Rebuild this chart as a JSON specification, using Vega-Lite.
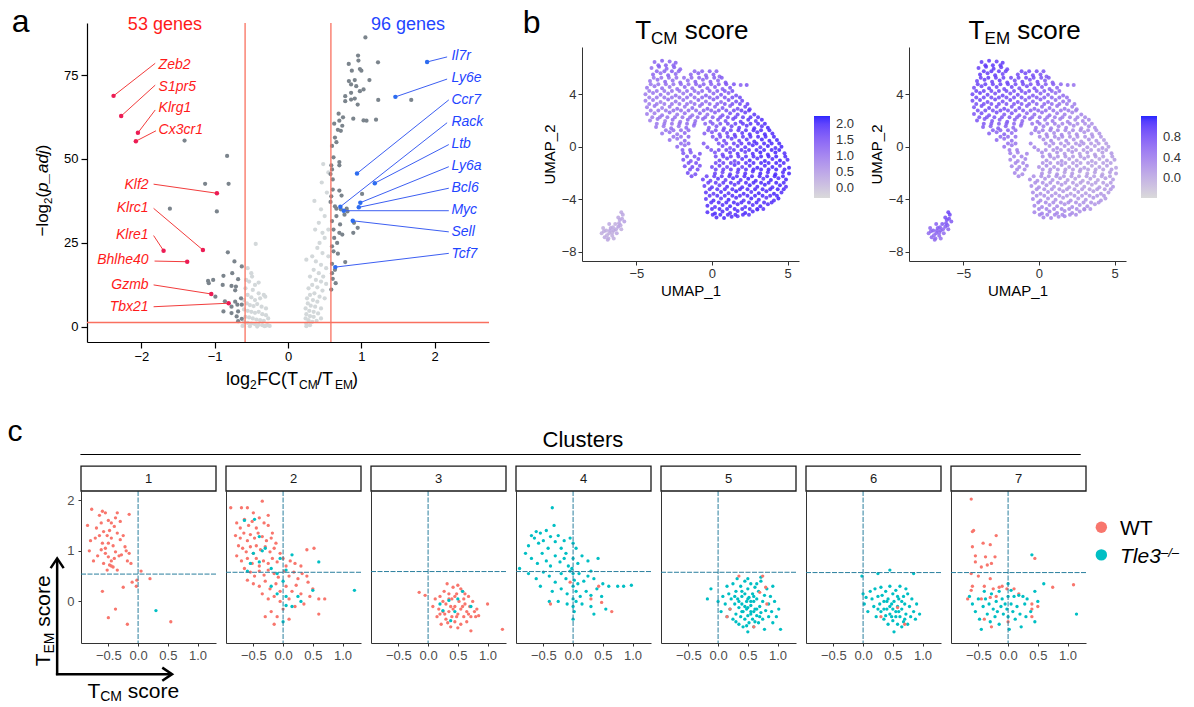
{
"$schema":"https://vega.github.io/schema/vega-lite/v6.json",
"padding":{"left":7,"top":6,"right":0,"bottom":0},
"background":"white",
"config":{"font":"Liberation Sans","view":{"stroke":null},"axis":{"grid":false,"domainColor":"#000","tickColor":"#000","labelColor":"#000","labelFont":"Liberation Sans","titleFont":"Liberation Sans","titleFontWeight":"normal","labelFontSize":13,"titleColor":"#000"},"legend":{"labelFont":"Liberation Sans"},"text":{"font":"Liberation Sans"}},
"datasets":{
"vol":[
{"x":-0.44,"y":24.7,"t":"l"},{"x":-0.55,"y":17.5,"t":"l"},{"x":-0.5,"y":16,"t":"l"},{"x":-0.57,"y":14,"t":"l"},{"x":-0.53,"y":13.5,"t":"l"},{"x":-0.45,"y":12.5,"t":"l"},{"x":-0.58,"y":11.5,"t":"l"},{"x":-0.48,"y":11,"t":"l"},{"x":-0.4,"y":10,"t":"l"},{"x":-0.33,"y":9.5,"t":"l"},{"x":-0.55,"y":9.5,"t":"l"},{"x":-0.5,"y":8.8,"t":"l"},{"x":-0.45,"y":8,"t":"l"},{"x":-0.38,"y":8.5,"t":"l"},{"x":-0.6,"y":8,"t":"l"},{"x":-0.56,"y":7,"t":"l"},{"x":-0.52,"y":6.5,"t":"l"},{"x":-0.47,"y":6.2,"t":"l"},{"x":-0.42,"y":6.8,"t":"l"},{"x":-0.36,"y":6,"t":"l"},{"x":-0.3,"y":5.5,"t":"l"},{"x":-0.6,"y":5.2,"t":"l"},{"x":-0.55,"y":4.8,"t":"l"},{"x":-0.5,"y":4.5,"t":"l"},{"x":-0.45,"y":4.2,"t":"l"},{"x":-0.4,"y":4.5,"t":"l"},{"x":-0.35,"y":3.8,"t":"l"},{"x":-0.3,"y":3.5,"t":"l"},{"x":-0.27,"y":2.5,"t":"l"},{"x":-0.58,"y":3,"t":"l"},{"x":-0.53,"y":2.8,"t":"l"},{"x":-0.48,"y":2.5,"t":"l"},{"x":-0.43,"y":2.2,"t":"l"},{"x":-0.38,"y":2,"t":"l"},{"x":-0.33,"y":1.8,"t":"l"},{"x":-0.6,"y":1.5,"t":"l"},{"x":-0.55,"y":1.2,"t":"l"},{"x":-0.5,"y":1.0,"t":"l"},{"x":-0.45,"y":0.8,"t":"l"},{"x":-0.4,"y":0.6,"t":"l"},{"x":-0.35,"y":0.5,"t":"l"},{"x":-0.3,"y":0.4,"t":"l"},{"x":-0.62,"y":0.3,"t":"l"},{"x":-0.52,"y":0.2,"t":"l"},{"x":-0.42,"y":0.1,"t":"l"},{"x":-0.32,"y":0.2,"t":"l"},{"x":-0.28,"y":0.5,"t":"l"},{"x":-0.25,"y":0.3,"t":"l"},{"x":-0.49,"y":15.0,"t":"l"},{"x":-0.4,"y":13.2,"t":"l"},{"x":-0.31,"y":9.0,"t":"l"},
{"x":0.48,"y":48.5,"t":"l"},{"x":0.36,"y":37.5,"t":"l"},{"x":0.45,"y":35,"t":"l"},{"x":0.5,"y":33,"t":"l"},{"x":0.42,"y":31,"t":"l"},{"x":0.37,"y":29,"t":"l"},{"x":0.47,"y":28,"t":"l"},{"x":0.5,"y":26.5,"t":"l"},{"x":0.43,"y":25,"t":"l"},{"x":0.4,"y":23.5,"t":"l"},{"x":0.33,"y":21,"t":"l"},{"x":0.47,"y":22,"t":"l"},{"x":0.25,"y":20,"t":"l"},{"x":0.38,"y":19.5,"t":"l"},{"x":0.45,"y":18.5,"t":"l"},{"x":0.52,"y":17.5,"t":"l"},{"x":0.35,"y":17,"t":"l"},{"x":0.42,"y":16,"t":"l"},{"x":0.48,"y":15,"t":"l"},{"x":0.3,"y":15,"t":"l"},{"x":0.38,"y":14,"t":"l"},{"x":0.45,"y":13.5,"t":"l"},{"x":0.52,"y":12.8,"t":"l"},{"x":0.33,"y":12.5,"t":"l"},{"x":0.28,"y":11.5,"t":"l"},{"x":0.4,"y":11.8,"t":"l"},{"x":0.47,"y":10.8,"t":"l"},{"x":0.36,"y":10,"t":"l"},{"x":0.3,"y":9.5,"t":"l"},{"x":0.43,"y":9,"t":"l"},{"x":0.5,"y":8.5,"t":"l"},{"x":0.26,"y":8.5,"t":"l"},{"x":0.34,"y":8,"t":"l"},{"x":0.4,"y":7.5,"t":"l"},{"x":0.27,"y":7,"t":"l"},{"x":0.31,"y":6.3,"t":"l"},{"x":0.37,"y":6,"t":"l"},{"x":0.45,"y":5.5,"t":"l"},{"x":0.24,"y":5.5,"t":"l"},{"x":0.29,"y":4.8,"t":"l"},{"x":0.35,"y":4.5,"t":"l"},{"x":0.41,"y":4,"t":"l"},{"x":0.25,"y":3.8,"t":"l"},{"x":0.3,"y":3.2,"t":"l"},{"x":0.35,"y":3,"t":"l"},{"x":0.24,"y":2.5,"t":"l"},{"x":0.28,"y":2,"t":"l"},{"x":0.33,"y":1.5,"t":"l"},{"x":0.39,"y":1.8,"t":"l"},{"x":0.25,"y":1,"t":"l"},{"x":0.3,"y":0.5,"t":"l"},{"x":0.25,"y":0.2,"t":"l"},{"x":0.45,"y":2.5,"t":"l"},{"x":0.55,"y":21,"t":"l"},{"x":0.55,"y":29,"t":"l"},{"x":0.53,"y":40,"t":"l"},{"x":0.46,"y":43,"t":"l"},{"x":0.55,"y":46,"t":"l"},
{"x":1.055,"y":86.2,"t":"d"},{"x":0.955,"y":80.8,"t":"d"},{"x":1.227,"y":78.8,"t":"d"},{"x":0.828,"y":78.3,"t":"d"},{"x":0.96,"y":79.3,"t":"d"},{"x":0.98,"y":76.8,"t":"d"},{"x":0.87,"y":76.3,"t":"d"},{"x":1.0,"y":76.3,"t":"d"},{"x":1.11,"y":73.5,"t":"d"},{"x":0.83,"y":73.2,"t":"d"},{"x":0.91,"y":73.5,"t":"d"},{"x":0.86,"y":72.2,"t":"d"},{"x":0.93,"y":71.7,"t":"d"},{"x":0.98,"y":70.2,"t":"d"},{"x":1.03,"y":70.7,"t":"d"},{"x":0.86,"y":69.7,"t":"d"},{"x":0.78,"y":68.7,"t":"d"},{"x":0.91,"y":68.0,"t":"d"},{"x":0.86,"y":67.7,"t":"d"},{"x":0.95,"y":66.2,"t":"d"},{"x":0.78,"y":67.2,"t":"d"},{"x":1.23,"y":67.6,"t":"d"},{"x":1.68,"y":67.6,"t":"d"},{"x":0.89,"y":62.0,"t":"d"},{"x":1.03,"y":61.5,"t":"d"},{"x":1.07,"y":61.4,"t":"d"},{"x":1.2,"y":61.7,"t":"d"},{"x":0.75,"y":62.4,"t":"d"},{"x":0.7,"y":61.4,"t":"d"},{"x":0.74,"y":59.9,"t":"d"},{"x":0.68,"y":58.7,"t":"d"},{"x":0.72,"y":58.4,"t":"d"},{"x":0.64,"y":56.4,"t":"d"},{"x":0.6,"y":53.9,"t":"d"},{"x":0.59,"y":48.1,"t":"d"},{"x":0.6,"y":46.9,"t":"d"},{"x":0.7,"y":49.1,"t":"d"},{"x":0.7,"y":48.1,"t":"d"},{"x":0.61,"y":43.9,"t":"d"},{"x":0.7,"y":40.6,"t":"d"},{"x":0.73,"y":39.1,"t":"d"},{"x":0.61,"y":40.9,"t":"d"},{"x":0.59,"y":38.9,"t":"d"},{"x":0.64,"y":35.9,"t":"d"},{"x":0.77,"y":33.4,"t":"d"},{"x":0.81,"y":34.4,"t":"d"},{"x":0.9,"y":31.0,"t":"d"},{"x":0.95,"y":29.5,"t":"d"},{"x":1.01,"y":39.6,"t":"d"},{"x":0.7,"y":28.0,"t":"d"},{"x":0.74,"y":27.5,"t":"d"},{"x":0.67,"y":25.0,"t":"d"},{"x":0.6,"y":24.0,"t":"d"},{"x":0.68,"y":21.8,"t":"d"},{"x":0.78,"y":19.3,"t":"d"},{"x":0.6,"y":18.8,"t":"d"},{"x":0.64,"y":17.0,"t":"d"},{"x":0.59,"y":11.1,"t":"d"},{"x":0.61,"y":14.3,"t":"d"},{"x":0.89,"y":28.0,"t":"d"},{"x":0.6,"y":31.5,"t":"d"},{"x":0.58,"y":37.2,"t":"d"},{"x":0.66,"y":33.0,"t":"d"},{"x":0.62,"y":29.0,"t":"d"},{"x":0.66,"y":35.2,"t":"d"},{"x":0.72,"y":35.0,"t":"d"},{"x":0.8,"y":35.2,"t":"d"},{"x":0.62,"y":22.5,"t":"d"},{"x":0.65,"y":13,"t":"d"},{"x":0.6,"y":16,"t":"d"},{"x":0.63,"y":26.5,"t":"d"},{"x":0.71,"y":30.5,"t":"d"},{"x":0.58,"y":45.5,"t":"d"},{"x":0.62,"y":50.5,"t":"d"},{"x":0.66,"y":55,"t":"d"},{"x":0.63,"y":60.5,"t":"d"},{"x":0.69,"y":63.5,"t":"d"},
{"x":-1.41,"y":55.5,"t":"d"},{"x":-0.83,"y":50.9,"t":"d"},{"x":-1.13,"y":42.6,"t":"d"},{"x":-0.81,"y":42.6,"t":"d"},{"x":-1.61,"y":35.2,"t":"d"},{"x":-0.97,"y":34.4,"t":"d"},{"x":-0.82,"y":22.2,"t":"d"},{"x":-0.73,"y":19.5,"t":"d"},{"x":-0.63,"y":18.0,"t":"d"},{"x":-0.76,"y":16.0,"t":"d"},{"x":-0.88,"y":15.2,"t":"d"},{"x":-1.02,"y":14.0,"t":"d"},{"x":-1.09,"y":13.7,"t":"d"},{"x":-0.68,"y":14.2,"t":"d"},{"x":-0.89,"y":12.5,"t":"d"},{"x":-0.77,"y":12.2,"t":"d"},{"x":-0.71,"y":12.0,"t":"d"},{"x":-1.08,"y":13.0,"t":"d"},{"x":-0.99,"y":9.0,"t":"d"},{"x":-0.72,"y":10.9,"t":"d"},{"x":-0.64,"y":8.5,"t":"d"},{"x":-0.72,"y":7.5,"t":"d"},{"x":-0.88,"y":4.6,"t":"d"},{"x":-0.77,"y":4.1,"t":"d"},{"x":-0.68,"y":4.6,"t":"d"},{"x":-0.7,"y":3.1,"t":"d"},{"x":-0.63,"y":2.4,"t":"d"},{"x":-0.68,"y":1.7,"t":"d"},{"x":-0.77,"y":6.0,"t":"d"},{"x":-0.86,"y":7.6,"t":"d"},{"x":-0.63,"y":6.6,"t":"d"},{"x":-0.69,"y":6.6,"t":"d"}
],
"genes":[
{"n":"Zeb2","s":"L","a":"l","px":-2.378,"py":68.8,"lx":-1.81,"ly":78.5,"tx":-1.764,"ty":78.0},
{"n":"S1pr5","s":"L","a":"l","px":-2.274,"py":62.8,"lx":-1.81,"ly":72.0,"tx":-1.764,"ty":71.5},
{"n":"Klrg1","s":"L","a":"l","px":-2.046,"py":57.8,"lx":-1.81,"ly":64.6,"tx":-1.764,"ty":65.1},
{"n":"Cx3cr1","s":"L","a":"l","px":-2.074,"py":55.3,"lx":-1.8,"ly":58.4,"tx":-1.764,"ty":58.6},
{"n":"Klf2","s":"L","a":"r","px":-0.969,"py":39.8,"lx":-1.832,"ly":42.5,"tx":-1.9,"ty":42.3},
{"n":"Klrc1","s":"L","a":"r","px":-1.16,"py":22.9,"lx":-1.832,"ly":35.3,"tx":-1.9,"ty":35.3},
{"n":"Klre1","s":"L","a":"r","px":-1.696,"py":22.7,"lx":-1.832,"ly":27.2,"tx":-1.9,"ty":27.4},
{"n":"Bhlhe40","s":"L","a":"r","px":-1.374,"py":19.4,"lx":-1.819,"ly":19.6,"tx":-1.9,"ty":19.9},
{"n":"Gzmb","s":"L","a":"r","px":-1.046,"py":9.8,"lx":-1.832,"ly":12.5,"tx":-1.9,"ty":12.5},
{"n":"Tbx21","s":"L","a":"r","px":-0.809,"py":7.05,"lx":-1.832,"ly":6.0,"tx":-1.9,"ty":5.9},
{"n":"Il7r","s":"R","a":"l","px":1.896,"py":78.9,"lx":2.169,"ly":80.4,"tx":2.228,"ty":80.7},
{"n":"Ly6e","s":"R","a":"l","px":1.464,"py":68.5,"lx":2.169,"ly":73.8,"tx":2.228,"ty":74.0},
{"n":"Ccr7","s":"R","a":"l","px":0.941,"py":45.7,"lx":2.192,"ly":67.6,"tx":2.228,"ty":67.6},
{"n":"Rack","s":"R","a":"l","px":0.714,"py":35.8,"lx":2.169,"ly":60.8,"tx":2.228,"ty":61.0},
{"n":"Ltb","s":"R","a":"l","px":1.183,"py":42.8,"lx":2.192,"ly":54.3,"tx":2.228,"ty":54.5},
{"n":"Ly6a","s":"R","a":"l","px":0.986,"py":37.0,"lx":2.192,"ly":47.7,"tx":2.228,"ty":47.9},
{"n":"Bcl6","s":"R","a":"l","px":0.965,"py":35.6,"lx":2.192,"ly":41.3,"tx":2.228,"ty":41.3},
{"n":"Myc","s":"R","a":"l","px":0.76,"py":34.6,"lx":2.192,"ly":34.6,"tx":2.228,"ty":34.8},
{"n":"Sell","s":"R","a":"l","px":0.883,"py":31.6,"lx":2.192,"ly":28.3,"tx":2.228,"ty":28.4},
{"n":"Tcf7","s":"R","a":"l","px":0.645,"py":17.8,"lx":2.192,"ly":21.9,"tx":2.228,"ty":21.7}
],
"umap":[
{"u":-3.8,"v":6.45,"c":1.2,"e":0.9},{"u":-3.3,"v":6.55,"c":1.3,"e":0.9},{"u":-2.8,"v":6.5,"c":1.2,"e":0.85},{"u":-2.4,"v":6.4,"c":1.3,"e":0.9},
{"u":-4.0,"v":6.0,"c":1.1,"e":0.85},{"u":-3.5,"v":6.1,"c":1.3,"e":0.95},{"u":-3.0,"v":5.95,"c":1.2,"e":0.9},{"u":-2.5,"v":6.05,"c":1.3,"e":0.85},{"u":-2.1,"v":5.9,"c":1.2,"e":0.8},
{"u":-3.9,"v":5.5,"c":1.2,"e":0.9},{"u":-3.4,"v":5.6,"c":1.1,"e":0.85},{"u":-2.9,"v":5.45,"c":1.3,"e":0.9},{"u":-2.4,"v":5.55,"c":1.2,"e":0.8},{"u":-1.4,"v":5.5,"c":1.2,"e":0.75},{"u":-0.9,"v":5.6,"c":1.3,"e":0.8},{"u":-0.4,"v":5.45,"c":1.2,"e":0.75},{"u":0.1,"v":5.5,"c":1.3,"e":0.7},{"u":0.5,"v":5.35,"c":1.2,"e":0.65},
{"u":-4.1,"v":5.0,"c":1.0,"e":0.8},{"u":-3.6,"v":5.1,"c":1.1,"e":0.85},{"u":-3.1,"v":4.95,"c":1.2,"e":0.8},{"u":-2.6,"v":5.05,"c":1.1,"e":0.85},{"u":-2.1,"v":4.9,"c":1.2,"e":0.8},{"u":-1.6,"v":5.05,"c":1.1,"e":0.75},{"u":-1.1,"v":4.95,"c":1.3,"e":0.8},{"u":-0.6,"v":5.1,"c":1.2,"e":0.7},{"u":-0.1,"v":4.95,"c":1.3,"e":0.75},{"u":0.4,"v":5.05,"c":1.2,"e":0.65},{"u":0.9,"v":4.9,"c":1.4,"e":0.6},{"u":1.9,"v":4.7,"c":1.3,"e":0.5},{"u":2.3,"v":4.7,"c":1.4,"e":0.45},
{"u":-4.3,"v":4.5,"c":1.0,"e":0.75},{"u":-3.8,"v":4.6,"c":1.0,"e":0.8},{"u":-3.3,"v":4.45,"c":1.1,"e":0.85},{"u":-2.8,"v":4.55,"c":1.0,"e":0.8},{"u":-2.3,"v":4.4,"c":1.1,"e":0.75},{"u":-1.8,"v":4.55,"c":1.2,"e":0.8},{"u":-1.3,"v":4.45,"c":1.1,"e":0.7},{"u":-0.8,"v":4.6,"c":1.3,"e":0.75},{"u":-0.3,"v":4.45,"c":1.2,"e":0.7},{"u":0.2,"v":4.55,"c":1.3,"e":0.65},{"u":0.7,"v":4.4,"c":1.3,"e":0.6},{"u":1.2,"v":4.5,"c":1.4,"e":0.55},
{"u":-4.4,"v":4.0,"c":0.9,"e":0.8},{"u":-3.9,"v":4.1,"c":1.0,"e":0.85},{"u":-3.4,"v":3.95,"c":1.1,"e":0.8},{"u":-2.9,"v":4.05,"c":1.0,"e":0.75},{"u":-2.4,"v":3.9,"c":1.1,"e":0.8},{"u":-1.9,"v":4.05,"c":1.0,"e":0.7},{"u":-1.4,"v":3.95,"c":1.2,"e":0.75},{"u":-0.9,"v":4.1,"c":1.1,"e":0.7},{"u":-0.4,"v":3.9,"c":1.3,"e":0.65},{"u":0.1,"v":4.05,"c":1.2,"e":0.6},{"u":0.6,"v":3.95,"c":1.4,"e":0.6},{"u":1.1,"v":4.1,"c":1.3,"e":0.5},{"u":1.6,"v":3.9,"c":1.5,"e":0.5},
{"u":-4.4,"v":3.5,"c":0.9,"e":0.75},{"u":-3.9,"v":3.55,"c":1.0,"e":0.8},{"u":-3.4,"v":3.4,"c":0.9,"e":0.75},{"u":-2.9,"v":3.6,"c":1.1,"e":0.8},{"u":-2.4,"v":3.45,"c":1.0,"e":0.7},{"u":-1.9,"v":3.55,"c":1.1,"e":0.75},{"u":-1.4,"v":3.4,"c":1.0,"e":0.7},{"u":-0.9,"v":3.55,"c":1.2,"e":0.65},{"u":-0.4,"v":3.45,"c":1.1,"e":0.6},{"u":0.1,"v":3.6,"c":1.3,"e":0.6},{"u":0.6,"v":3.4,"c":1.2,"e":0.55},{"u":1.1,"v":3.55,"c":1.4,"e":0.5},{"u":1.6,"v":3.45,"c":1.5,"e":0.45},{"u":2.0,"v":3.5,"c":1.6,"e":0.4},
{"u":-4.3,"v":3.0,"c":0.9,"e":0.7},{"u":-3.8,"v":3.1,"c":1.0,"e":0.75},{"u":-3.3,"v":2.95,"c":0.9,"e":0.8},{"u":-2.8,"v":3.05,"c":1.0,"e":0.7},{"u":-2.3,"v":2.9,"c":1.1,"e":0.75},{"u":-1.8,"v":3.05,"c":1.0,"e":0.65},{"u":-1.3,"v":2.95,"c":1.2,"e":0.7},{"u":-0.8,"v":3.1,"c":1.1,"e":0.6},{"u":-0.3,"v":2.9,"c":1.3,"e":0.55},{"u":0.2,"v":3.05,"c":1.2,"e":0.5},{"u":0.7,"v":2.95,"c":1.4,"e":0.5},{"u":1.2,"v":3.1,"c":1.3,"e":0.45},{"u":1.7,"v":2.9,"c":1.5,"e":0.4},{"u":2.2,"v":3.05,"c":1.6,"e":0.35},{"u":2.5,"v":2.85,"c":1.7,"e":0.3},
{"u":-4.3,"v":2.5,"c":0.9,"e":0.7},{"u":-3.8,"v":2.55,"c":0.9,"e":0.75},{"u":-3.3,"v":2.4,"c":1.0,"e":0.7},{"u":-2.8,"v":2.6,"c":1.1,"e":0.75},{"u":-2.3,"v":2.45,"c":1.0,"e":0.65},{"u":-1.8,"v":2.55,"c":1.1,"e":0.7},{"u":-1.3,"v":2.4,"c":1.0,"e":0.6},{"u":-0.8,"v":2.55,"c":1.2,"e":0.55},{"u":-0.3,"v":2.45,"c":1.1,"e":0.5},{"u":0.2,"v":2.6,"c":1.3,"e":0.5},{"u":0.7,"v":2.4,"c":1.4,"e":0.45},{"u":1.2,"v":2.55,"c":1.5,"e":0.4},{"u":1.7,"v":2.45,"c":1.6,"e":0.35},{"u":2.2,"v":2.6,"c":1.7,"e":0.3},{"u":2.8,"v":2.45,"c":1.8,"e":0.3},
{"u":-4.1,"v":2.0,"c":0.9,"e":0.7},{"u":-3.6,"v":2.1,"c":1.0,"e":0.65},{"u":-3.1,"v":1.95,"c":0.9,"e":0.7},{"u":-2.6,"v":2.05,"c":1.1,"e":0.65},{"u":-2.1,"v":1.9,"c":1.0,"e":0.7},{"u":-1.6,"v":2.05,"c":1.2,"e":0.6},{"u":-1.1,"v":1.95,"c":1.1,"e":0.55},{"u":-0.6,"v":2.1,"c":1.2,"e":0.5},{"u":-0.1,"v":1.9,"c":1.3,"e":0.45},{"u":0.4,"v":2.05,"c":1.4,"e":0.4},{"u":0.9,"v":1.95,"c":1.5,"e":0.4},{"u":1.4,"v":2.1,"c":1.6,"e":0.35},{"u":1.9,"v":1.9,"c":1.7,"e":0.3},{"u":2.4,"v":2.05,"c":1.8,"e":0.25},{"u":2.9,"v":1.95,"c":1.7,"e":0.3},{"u":3.3,"v":2.05,"c":1.9,"e":0.25},
{"u":-3.7,"v":1.5,"c":1.0,"e":0.65},{"u":-3.2,"v":1.55,"c":0.9,"e":0.6},{"u":-2.7,"v":1.4,"c":1.1,"e":0.65},{"u":-2.2,"v":1.55,"c":1.0,"e":0.6},{"u":-1.7,"v":1.45,"c":1.2,"e":0.55},{"u":-1.2,"v":1.6,"c":1.1,"e":0.5},{"u":-0.2,"v":1.45,"c":1.3,"e":0.4},{"u":0.3,"v":1.55,"c":1.4,"e":0.35},{"u":0.8,"v":1.4,"c":1.5,"e":0.35},{"u":1.3,"v":1.55,"c":1.6,"e":0.3},{"u":1.8,"v":1.45,"c":1.7,"e":0.3},{"u":2.3,"v":1.6,"c":1.8,"e":0.25},{"u":2.8,"v":1.4,"c":1.9,"e":0.2},{"u":3.3,"v":1.55,"c":1.8,"e":0.25},{"u":3.7,"v":1.45,"c":2.0,"e":0.2},
{"u":-3.3,"v":1.0,"c":1.0,"e":0.6},{"u":-2.8,"v":1.1,"c":1.1,"e":0.55},{"u":-2.3,"v":0.95,"c":1.0,"e":0.6},{"u":-1.8,"v":1.05,"c":1.2,"e":0.5},{"u":-0.5,"v":1.0,"c":1.3,"e":0.35},{"u":0.0,"v":1.1,"c":1.4,"e":0.3},{"u":0.5,"v":0.95,"c":1.5,"e":0.3},{"u":1.0,"v":1.05,"c":1.6,"e":0.25},{"u":1.5,"v":0.9,"c":1.7,"e":0.3},{"u":2.0,"v":1.05,"c":1.8,"e":0.2},{"u":2.5,"v":0.95,"c":1.9,"e":0.25},{"u":3.0,"v":1.1,"c":1.8,"e":0.2},{"u":3.5,"v":0.95,"c":2.0,"e":0.15},{"u":4.0,"v":1.0,"c":1.9,"e":0.2},
{"u":-2.8,"v":0.5,"c":1.1,"e":0.55},{"u":-2.3,"v":0.6,"c":1.0,"e":0.5},{"u":-1.8,"v":0.45,"c":1.2,"e":0.5},{"u":0.3,"v":0.55,"c":1.5,"e":0.25},{"u":0.8,"v":0.45,"c":1.6,"e":0.3},{"u":1.3,"v":0.6,"c":1.7,"e":0.2},{"u":1.8,"v":0.45,"c":1.6,"e":0.25},{"u":2.3,"v":0.55,"c":1.8,"e":0.2},{"u":2.8,"v":0.4,"c":1.9,"e":0.15},{"u":3.3,"v":0.55,"c":2.0,"e":0.2},{"u":3.8,"v":0.45,"c":1.9,"e":0.15},{"u":4.3,"v":0.5,"c":2.0,"e":0.1},
{"u":-2.3,"v":0.0,"c":1.2,"e":0.45},{"u":-1.8,"v":0.1,"c":1.1,"e":0.4},{"u":-0.3,"v":-0.05,"c":1.4,"e":0.3},{"u":0.7,"v":0.05,"c":1.6,"e":0.2},{"u":1.2,"v":-0.1,"c":1.5,"e":0.25},{"u":1.7,"v":0.05,"c":1.7,"e":0.2},{"u":2.2,"v":-0.05,"c":1.8,"e":0.15},{"u":2.7,"v":0.1,"c":1.9,"e":0.2},{"u":3.2,"v":-0.05,"c":1.8,"e":0.15},{"u":3.7,"v":0.05,"c":2.0,"e":0.1},{"u":4.2,"v":-0.1,"c":1.9,"e":0.15},{"u":4.6,"v":0.0,"c":2.0,"e":0.1},
{"u":-1.9,"v":-0.5,"c":1.4,"e":0.35},{"u":-1.4,"v":-0.45,"c":1.3,"e":0.3},{"u":-0.8,"v":-0.55,"c":1.5,"e":0.3},{"u":0.2,"v":-0.45,"c":1.5,"e":0.25},{"u":0.7,"v":-0.6,"c":1.6,"e":0.2},{"u":1.2,"v":-0.45,"c":1.7,"e":0.2},{"u":1.7,"v":-0.55,"c":1.8,"e":0.15},{"u":2.2,"v":-0.4,"c":1.7,"e":0.2},{"u":2.7,"v":-0.55,"c":1.9,"e":0.1},{"u":3.2,"v":-0.45,"c":2.0,"e":0.15},{"u":3.7,"v":-0.6,"c":1.9,"e":0.1},{"u":4.2,"v":-0.45,"c":2.0,"e":0.1},{"u":4.8,"v":-0.5,"c":1.9,"e":0.15},
{"u":-1.9,"v":-1.0,"c":1.5,"e":0.3},{"u":-1.4,"v":-1.1,"c":1.4,"e":0.25},{"u":-0.9,"v":-0.95,"c":1.5,"e":0.3},{"u":0.5,"v":-1.05,"c":1.6,"e":0.2},{"u":1.0,"v":-0.9,"c":1.7,"e":0.15},{"u":1.5,"v":-1.1,"c":1.6,"e":0.2},{"u":2.0,"v":-0.95,"c":1.8,"e":0.15},{"u":2.5,"v":-1.05,"c":1.9,"e":0.1},{"u":3.0,"v":-0.9,"c":1.8,"e":0.15},{"u":3.5,"v":-1.1,"c":2.0,"e":0.1},{"u":4.0,"v":-0.95,"c":1.9,"e":0.05},{"u":4.5,"v":-1.05,"c":2.0,"e":0.1},{"u":5.0,"v":-1.0,"c":1.9,"e":0.1},
{"u":-1.8,"v":-1.5,"c":1.5,"e":0.3},{"u":-1.3,"v":-1.55,"c":1.6,"e":0.25},{"u":-0.8,"v":-1.45,"c":1.5,"e":0.3},{"u":0.0,"v":-1.55,"c":1.6,"e":0.2},{"u":0.5,"v":-1.45,"c":1.7,"e":0.25},{"u":1.0,"v":-1.55,"c":1.6,"e":0.15},{"u":1.5,"v":-1.4,"c":1.8,"e":0.2},{"u":2.0,"v":-1.55,"c":1.7,"e":0.1},{"u":2.5,"v":-1.45,"c":1.9,"e":0.15},{"u":3.0,"v":-1.6,"c":2.0,"e":0.1},{"u":3.5,"v":-1.45,"c":1.9,"e":0.05},{"u":4.0,"v":-1.55,"c":2.0,"e":0.1},{"u":4.5,"v":-1.45,"c":1.9,"e":0.1},{"u":5.1,"v":-1.6,"c":2.0,"e":0.05},
{"u":-1.6,"v":-2.0,"c":1.6,"e":0.3},{"u":-1.1,"v":-2.1,"c":1.5,"e":0.25},{"u":0.2,"v":-2.05,"c":1.7,"e":0.2},{"u":0.7,"v":-1.95,"c":1.6,"e":0.15},{"u":1.2,"v":-2.1,"c":1.8,"e":0.2},{"u":1.7,"v":-1.95,"c":1.7,"e":0.1},{"u":2.2,"v":-2.05,"c":1.9,"e":0.15},{"u":2.7,"v":-1.9,"c":1.8,"e":0.1},{"u":3.2,"v":-2.05,"c":2.0,"e":0.05},{"u":3.7,"v":-1.95,"c":1.9,"e":0.1},{"u":4.2,"v":-2.1,"c":2.0,"e":0.05},{"u":4.7,"v":-1.95,"c":1.9,"e":0.1},{"u":5.1,"v":-2.05,"c":2.0,"e":0.1},
{"u":-0.6,"v":-2.5,"c":1.7,"e":0.25},{"u":-0.1,"v":-2.6,"c":1.6,"e":0.2},{"u":0.4,"v":-2.45,"c":1.8,"e":0.2},{"u":0.9,"v":-2.55,"c":1.7,"e":0.15},{"u":1.4,"v":-2.4,"c":1.9,"e":0.15},{"u":1.9,"v":-2.55,"c":1.8,"e":0.1},{"u":2.4,"v":-2.45,"c":2.0,"e":0.1},{"u":2.9,"v":-2.6,"c":1.9,"e":0.05},{"u":3.4,"v":-2.45,"c":1.8,"e":0.1},{"u":3.9,"v":-2.55,"c":2.0,"e":0.05},{"u":4.4,"v":-2.4,"c":1.9,"e":0.1},{"u":4.9,"v":-2.5,"c":2.0,"e":0.1},
{"u":-0.5,"v":-3.0,"c":1.7,"e":0.25},{"u":0.0,"v":-3.1,"c":1.8,"e":0.2},{"u":0.5,"v":-2.95,"c":1.7,"e":0.2},{"u":1.0,"v":-3.05,"c":1.9,"e":0.15},{"u":1.5,"v":-2.9,"c":1.8,"e":0.15},{"u":2.0,"v":-3.1,"c":1.9,"e":0.1},{"u":2.5,"v":-2.95,"c":2.0,"e":0.1},{"u":3.0,"v":-3.05,"c":1.9,"e":0.1},{"u":3.5,"v":-2.9,"c":2.0,"e":0.05},{"u":4.0,"v":-3.1,"c":1.9,"e":0.1},{"u":4.5,"v":-2.95,"c":2.0,"e":0.1},{"u":4.9,"v":-3.05,"c":1.9,"e":0.15},
{"u":-0.4,"v":-3.5,"c":1.8,"e":0.25},{"u":0.1,"v":-3.6,"c":1.7,"e":0.2},{"u":0.6,"v":-3.45,"c":1.9,"e":0.2},{"u":1.1,"v":-3.55,"c":1.8,"e":0.15},{"u":1.6,"v":-3.4,"c":2.0,"e":0.15},{"u":2.1,"v":-3.6,"c":1.9,"e":0.1},{"u":2.6,"v":-3.45,"c":1.8,"e":0.15},{"u":3.1,"v":-3.55,"c":2.0,"e":0.1},{"u":3.6,"v":-3.4,"c":1.9,"e":0.1},{"u":4.1,"v":-3.6,"c":2.0,"e":0.15},{"u":4.6,"v":-3.5,"c":1.9,"e":0.1},
{"u":-0.4,"v":-4.0,"c":1.8,"e":0.3},{"u":0.1,"v":-4.1,"c":1.9,"e":0.25},{"u":0.6,"v":-3.95,"c":1.8,"e":0.2},{"u":1.1,"v":-4.05,"c":2.0,"e":0.2},{"u":1.6,"v":-3.9,"c":1.9,"e":0.15},{"u":2.1,"v":-4.1,"c":1.8,"e":0.2},{"u":2.6,"v":-3.95,"c":2.0,"e":0.15},{"u":3.1,"v":-4.05,"c":1.9,"e":0.15},{"u":3.6,"v":-3.9,"c":1.8,"e":0.2},{"u":4.1,"v":-4.1,"c":1.9,"e":0.15},{"u":4.4,"v":-3.95,"c":2.0,"e":0.1},
{"u":-0.3,"v":-4.5,"c":1.9,"e":0.3},{"u":0.2,"v":-4.6,"c":1.8,"e":0.3},{"u":0.7,"v":-4.45,"c":1.9,"e":0.25},{"u":1.2,"v":-4.55,"c":2.0,"e":0.25},{"u":1.7,"v":-4.4,"c":1.9,"e":0.2},{"u":2.2,"v":-4.6,"c":1.8,"e":0.25},{"u":2.7,"v":-4.45,"c":1.9,"e":0.2},{"u":3.2,"v":-4.55,"c":2.0,"e":0.2},{"u":3.7,"v":-4.4,"c":1.9,"e":0.15},
{"u":-0.3,"v":-5.0,"c":1.9,"e":0.3},{"u":0.2,"v":-5.1,"c":2.0,"e":0.35},{"u":0.7,"v":-4.95,"c":1.9,"e":0.3},{"u":1.2,"v":-5.05,"c":1.8,"e":0.3},{"u":1.7,"v":-4.9,"c":1.9,"e":0.25},{"u":2.2,"v":-5.05,"c":2.0,"e":0.25},{"u":2.7,"v":-4.95,"c":1.9,"e":0.2},{"u":3.0,"v":-4.8,"c":1.8,"e":0.2},
{"u":0.3,"v":-5.4,"c":1.9,"e":0.3},{"u":0.8,"v":-5.45,"c":2.0,"e":0.3},{"u":1.3,"v":-5.35,"c":1.9,"e":0.25},{"u":1.7,"v":-5.3,"c":1.8,"e":0.3},
{"u":-3.55,"v":6.2,"c":1.25,"e":0.9},{"u":-3.05,"v":6.2,"c":1.3,"e":0.92},{"u":-2.55,"v":6.2,"c":1.25,"e":0.88},
{"u":-3.65,"v":5.75,"c":1.2,"e":0.88},{"u":-3.15,"v":5.75,"c":1.25,"e":0.9},{"u":-2.65,"v":5.75,"c":1.3,"e":0.86},{"u":-2.2,"v":5.75,"c":1.2,"e":0.84},{"u":-1.15,"v":5.75,"c":1.2,"e":0.8},{"u":-0.65,"v":5.75,"c":1.25,"e":0.78},{"u":-0.15,"v":5.75,"c":1.3,"e":0.75},{"u":0.3,"v":5.75,"c":1.25,"e":0.7},
{"u":-3.85,"v":5.25,"c":1.0,"e":0.85},{"u":-3.35,"v":5.25,"c":1.05,"e":0.88},{"u":-2.85,"v":5.25,"c":1.1,"e":0.84},{"u":-2.35,"v":5.25,"c":1.05,"e":0.82},{"u":-1.85,"v":5.25,"c":1.1,"e":0.8},{"u":-1.35,"v":5.25,"c":1.15,"e":0.78},{"u":-0.85,"v":5.25,"c":1.25,"e":0.78},{"u":-0.35,"v":5.25,"c":1.2,"e":0.74},{"u":0.15,"v":5.25,"c":1.3,"e":0.7},{"u":0.65,"v":5.25,"c":1.35,"e":0.66},
{"u":-4.05,"v":4.75,"c":0.95,"e":0.82},{"u":-3.55,"v":4.75,"c":1.0,"e":0.84},{"u":-3.05,"v":4.75,"c":1.05,"e":0.8},{"u":-2.55,"v":4.75,"c":1.0,"e":0.82},{"u":-2.05,"v":4.75,"c":1.1,"e":0.78},{"u":-1.55,"v":4.75,"c":1.05,"e":0.76},{"u":-1.05,"v":4.75,"c":1.2,"e":0.74},{"u":-0.55,"v":4.75,"c":1.25,"e":0.7},{"u":-0.05,"v":4.75,"c":1.2,"e":0.7},{"u":0.45,"v":4.75,"c":1.3,"e":0.65},{"u":0.95,"v":4.75,"c":1.4,"e":0.6},{"u":1.45,"v":4.75,"c":1.45,"e":0.55},
{"u":-4.15,"v":4.25,"c":0.9,"e":0.8},{"u":-3.65,"v":4.25,"c":0.95,"e":0.82},{"u":-3.15,"v":4.25,"c":1.0,"e":0.78},{"u":-2.65,"v":4.25,"c":1.05,"e":0.8},{"u":-2.15,"v":4.25,"c":1.0,"e":0.76},{"u":-1.65,"v":4.25,"c":1.1,"e":0.74},{"u":-1.15,"v":4.25,"c":1.15,"e":0.72},{"u":-0.65,"v":4.25,"c":1.2,"e":0.7},{"u":-0.15,"v":4.25,"c":1.25,"e":0.66},{"u":0.35,"v":4.25,"c":1.3,"e":0.62},{"u":0.85,"v":4.25,"c":1.4,"e":0.58},{"u":1.35,"v":4.25,"c":1.5,"e":0.52},
{"u":-4.15,"v":3.75,"c":0.9,"e":0.78},{"u":-3.65,"v":3.75,"c":0.95,"e":0.8},{"u":-3.15,"v":3.75,"c":1.0,"e":0.76},{"u":-2.65,"v":3.75,"c":1.0,"e":0.78},{"u":-2.15,"v":3.75,"c":1.05,"e":0.72},{"u":-1.65,"v":3.75,"c":1.1,"e":0.74},{"u":-1.15,"v":3.75,"c":1.1,"e":0.7},{"u":-0.65,"v":3.75,"c":1.2,"e":0.66},{"u":-0.15,"v":3.75,"c":1.25,"e":0.62},{"u":0.35,"v":3.75,"c":1.3,"e":0.6},{"u":0.85,"v":3.75,"c":1.4,"e":0.55},{"u":1.35,"v":3.75,"c":1.5,"e":0.5},{"u":1.85,"v":3.75,"c":1.6,"e":0.45},
{"u":-4.15,"v":3.25,"c":0.9,"e":0.74},{"u":-3.65,"v":3.25,"c":0.95,"e":0.76},{"u":-3.15,"v":3.25,"c":0.95,"e":0.72},{"u":-2.65,"v":3.25,"c":1.05,"e":0.74},{"u":-2.15,"v":3.25,"c":1.0,"e":0.7},{"u":-1.65,"v":3.25,"c":1.1,"e":0.7},{"u":-1.15,"v":3.25,"c":1.1,"e":0.66},{"u":-0.65,"v":3.25,"c":1.2,"e":0.62},{"u":-0.15,"v":3.25,"c":1.2,"e":0.58},{"u":0.35,"v":3.25,"c":1.3,"e":0.55},{"u":0.85,"v":3.25,"c":1.4,"e":0.5},{"u":1.35,"v":3.25,"c":1.5,"e":0.45},{"u":1.85,"v":3.25,"c":1.6,"e":0.4},{"u":2.35,"v":3.25,"c":1.7,"e":0.35},
{"u":-4.05,"v":2.75,"c":0.9,"e":0.72},{"u":-3.55,"v":2.75,"c":0.95,"e":0.74},{"u":-3.05,"v":2.75,"c":0.95,"e":0.7},{"u":-2.55,"v":2.75,"c":1.05,"e":0.72},{"u":-2.05,"v":2.75,"c":1.05,"e":0.66},{"u":-1.55,"v":2.75,"c":1.1,"e":0.66},{"u":-1.05,"v":2.75,"c":1.15,"e":0.62},{"u":-0.55,"v":2.75,"c":1.2,"e":0.56},{"u":-0.05,"v":2.75,"c":1.25,"e":0.52},{"u":0.45,"v":2.75,"c":1.35,"e":0.48},{"u":0.95,"v":2.75,"c":1.45,"e":0.44},{"u":1.45,"v":2.75,"c":1.55,"e":0.4},{"u":1.95,"v":2.75,"c":1.65,"e":0.35},{"u":2.45,"v":2.75,"c":1.75,"e":0.3},
{"u":-3.95,"v":2.25,"c":0.9,"e":0.7},{"u":-3.45,"v":2.25,"c":0.95,"e":0.68},{"u":-2.95,"v":2.25,"c":1.0,"e":0.7},{"u":-2.45,"v":2.25,"c":1.05,"e":0.66},{"u":-1.95,"v":2.25,"c":1.05,"e":0.66},{"u":-1.45,"v":2.25,"c":1.1,"e":0.6},{"u":-0.95,"v":2.25,"c":1.15,"e":0.56},{"u":-0.45,"v":2.25,"c":1.2,"e":0.5},{"u":0.05,"v":2.25,"c":1.3,"e":0.46},{"u":0.55,"v":2.25,"c":1.4,"e":0.42},{"u":1.05,"v":2.25,"c":1.5,"e":0.38},{"u":1.55,"v":2.25,"c":1.6,"e":0.34},{"u":2.05,"v":2.25,"c":1.7,"e":0.3},{"u":2.55,"v":2.25,"c":1.8,"e":0.28},{"u":3.05,"v":2.25,"c":1.8,"e":0.26},
{"u":-3.65,"v":1.75,"c":0.95,"e":0.66},{"u":-3.15,"v":1.75,"c":1.0,"e":0.64},{"u":-2.65,"v":1.75,"c":1.05,"e":0.64},{"u":-2.15,"v":1.75,"c":1.05,"e":0.6},{"u":-1.65,"v":1.75,"c":1.15,"e":0.56},{"u":-1.15,"v":1.75,"c":1.15,"e":0.52},{"u":-0.45,"v":1.75,"c":1.25,"e":0.44},{"u":0.05,"v":1.75,"c":1.35,"e":0.4},{"u":0.55,"v":1.75,"c":1.45,"e":0.36},{"u":1.05,"v":1.75,"c":1.55,"e":0.34},{"u":1.55,"v":1.75,"c":1.65,"e":0.3},{"u":2.05,"v":1.75,"c":1.75,"e":0.28},{"u":2.55,"v":1.75,"c":1.85,"e":0.24},{"u":3.05,"v":1.75,"c":1.85,"e":0.22},{"u":3.5,"v":1.75,"c":1.95,"e":0.2},
{"u":-3.05,"v":1.25,"c":1.0,"e":0.62},{"u":-2.55,"v":1.25,"c":1.05,"e":0.58},{"u":-2.05,"v":1.25,"c":1.1,"e":0.56},{"u":-1.55,"v":1.25,"c":1.15,"e":0.52},{"u":-0.25,"v":1.25,"c":1.3,"e":0.38},{"u":0.25,"v":1.25,"c":1.4,"e":0.34},{"u":0.75,"v":1.25,"c":1.5,"e":0.32},{"u":1.25,"v":1.25,"c":1.6,"e":0.3},{"u":1.75,"v":1.25,"c":1.7,"e":0.26},{"u":2.25,"v":1.25,"c":1.8,"e":0.24},{"u":2.75,"v":1.25,"c":1.85,"e":0.22},{"u":3.25,"v":1.25,"c":1.9,"e":0.2},{"u":3.8,"v":1.25,"c":1.95,"e":0.18},
{"u":-2.55,"v":0.75,"c":1.05,"e":0.54},{"u":-2.05,"v":0.75,"c":1.1,"e":0.52},{"u":-1.55,"v":0.75,"c":1.2,"e":0.48},{"u":0.05,"v":0.75,"c":1.4,"e":0.3},{"u":0.55,"v":0.75,"c":1.5,"e":0.28},{"u":1.05,"v":0.75,"c":1.6,"e":0.26},{"u":1.55,"v":0.75,"c":1.65,"e":0.24},{"u":2.05,"v":0.75,"c":1.75,"e":0.22},{"u":2.55,"v":0.75,"c":1.85,"e":0.2},{"u":3.05,"v":0.75,"c":1.9,"e":0.18},{"u":3.55,"v":0.75,"c":1.95,"e":0.16},{"u":4.1,"v":0.75,"c":1.95,"e":0.14},
{"u":-2.05,"v":0.25,"c":1.15,"e":0.46},{"u":-1.55,"v":0.25,"c":1.2,"e":0.42},{"u":-0.55,"v":0.25,"c":1.35,"e":0.32},{"u":0.45,"v":0.25,"c":1.5,"e":0.24},{"u":0.95,"v":0.25,"c":1.55,"e":0.22},{"u":1.45,"v":0.25,"c":1.65,"e":0.2},{"u":1.95,"v":0.25,"c":1.75,"e":0.18},{"u":2.45,"v":0.25,"c":1.85,"e":0.18},{"u":2.95,"v":0.25,"c":1.9,"e":0.16},{"u":3.45,"v":0.25,"c":1.95,"e":0.14},{"u":3.95,"v":0.25,"c":1.95,"e":0.12},{"u":4.45,"v":0.25,"c":2.0,"e":0.1},
{"u":-1.95,"v":-0.25,"c":1.35,"e":0.38},{"u":-1.45,"v":-0.25,"c":1.35,"e":0.34},{"u":-0.05,"v":-0.25,"c":1.45,"e":0.26},{"u":0.45,"v":-0.25,"c":1.55,"e":0.22},{"u":0.95,"v":-0.25,"c":1.6,"e":0.2},{"u":1.45,"v":-0.25,"c":1.7,"e":0.18},{"u":1.95,"v":-0.25,"c":1.8,"e":0.16},{"u":2.45,"v":-0.25,"c":1.85,"e":0.14},{"u":2.95,"v":-0.25,"c":1.9,"e":0.12},{"u":3.45,"v":-0.25,"c":1.95,"e":0.12},{"u":3.95,"v":-0.25,"c":1.95,"e":0.1},{"u":4.45,"v":-0.25,"c":2.0,"e":0.1},
{"u":-1.65,"v":-0.75,"c":1.45,"e":0.32},{"u":-1.15,"v":-0.75,"c":1.45,"e":0.3},{"u":0.25,"v":-0.75,"c":1.55,"e":0.22},{"u":0.75,"v":-0.75,"c":1.6,"e":0.2},{"u":1.25,"v":-0.75,"c":1.7,"e":0.18},{"u":1.75,"v":-0.75,"c":1.75,"e":0.16},{"u":2.25,"v":-0.75,"c":1.8,"e":0.14},{"u":2.75,"v":-0.75,"c":1.85,"e":0.12},{"u":3.25,"v":-0.75,"c":1.95,"e":0.1},{"u":3.75,"v":-0.75,"c":1.95,"e":0.1},{"u":4.25,"v":-0.75,"c":2.0,"e":0.08},{"u":4.85,"v":-0.75,"c":1.95,"e":0.1},
{"u":-1.55,"v":-1.25,"c":1.5,"e":0.3},{"u":-1.05,"v":-1.25,"c":1.5,"e":0.28},{"u":0.25,"v":-1.25,"c":1.6,"e":0.2},{"u":0.75,"v":-1.25,"c":1.65,"e":0.18},{"u":1.25,"v":-1.25,"c":1.7,"e":0.16},{"u":1.75,"v":-1.25,"c":1.75,"e":0.14},{"u":2.25,"v":-1.25,"c":1.85,"e":0.12},{"u":2.75,"v":-1.25,"c":1.9,"e":0.1},{"u":3.25,"v":-1.25,"c":1.95,"e":0.1},{"u":3.75,"v":-1.25,"c":1.95,"e":0.08},{"u":4.25,"v":-1.25,"c":2.0,"e":0.08},{"u":4.75,"v":-1.25,"c":1.95,"e":0.1},
{"u":-1.45,"v":-1.75,"c":1.55,"e":0.28},{"u":-0.95,"v":-1.75,"c":1.55,"e":0.26},{"u":0.25,"v":-1.75,"c":1.65,"e":0.2},{"u":0.75,"v":-1.75,"c":1.7,"e":0.18},{"u":1.25,"v":-1.75,"c":1.75,"e":0.16},{"u":1.75,"v":-1.75,"c":1.8,"e":0.12},{"u":2.25,"v":-1.75,"c":1.85,"e":0.12},{"u":2.75,"v":-1.75,"c":1.9,"e":0.1},{"u":3.25,"v":-1.75,"c":1.95,"e":0.08},{"u":3.75,"v":-1.75,"c":1.95,"e":0.08},{"u":4.25,"v":-1.75,"c":2.0,"e":0.08},{"u":4.8,"v":-1.75,"c":1.95,"e":0.1},
{"u":-1.35,"v":-2.25,"c":1.55,"e":0.28},{"u":-0.35,"v":-2.25,"c":1.65,"e":0.22},{"u":0.15,"v":-2.25,"c":1.7,"e":0.2},{"u":0.65,"v":-2.25,"c":1.75,"e":0.18},{"u":1.15,"v":-2.25,"c":1.8,"e":0.16},{"u":1.65,"v":-2.25,"c":1.85,"e":0.14},{"u":2.15,"v":-2.25,"c":1.9,"e":0.12},{"u":2.65,"v":-2.25,"c":1.9,"e":0.1},{"u":3.15,"v":-2.25,"c":1.95,"e":0.1},{"u":3.65,"v":-2.25,"c":1.95,"e":0.08},{"u":4.15,"v":-2.25,"c":2.0,"e":0.08},{"u":4.7,"v":-2.25,"c":1.95,"e":0.1},
{"u":-0.25,"v":-2.75,"c":1.7,"e":0.22},{"u":0.25,"v":-2.75,"c":1.75,"e":0.2},{"u":0.75,"v":-2.75,"c":1.8,"e":0.18},{"u":1.25,"v":-2.75,"c":1.85,"e":0.16},{"u":1.75,"v":-2.75,"c":1.85,"e":0.14},{"u":2.25,"v":-2.75,"c":1.9,"e":0.12},{"u":2.75,"v":-2.75,"c":1.95,"e":0.1},{"u":3.25,"v":-2.75,"c":1.95,"e":0.1},{"u":3.75,"v":-2.75,"c":1.95,"e":0.08},{"u":4.25,"v":-2.75,"c":2.0,"e":0.1},{"u":4.75,"v":-2.75,"c":1.95,"e":0.12},
{"u":-0.15,"v":-3.25,"c":1.75,"e":0.22},{"u":0.35,"v":-3.25,"c":1.8,"e":0.2},{"u":0.85,"v":-3.25,"c":1.85,"e":0.18},{"u":1.35,"v":-3.25,"c":1.85,"e":0.16},{"u":1.85,"v":-3.25,"c":1.9,"e":0.14},{"u":2.35,"v":-3.25,"c":1.9,"e":0.12},{"u":2.85,"v":-3.25,"c":1.95,"e":0.12},{"u":3.35,"v":-3.25,"c":1.95,"e":0.1},{"u":3.85,"v":-3.25,"c":1.95,"e":0.12},{"u":4.35,"v":-3.25,"c":2.0,"e":0.12},{"u":4.75,"v":-3.25,"c":1.95,"e":0.14},
{"u":-0.15,"v":-3.75,"c":1.8,"e":0.26},{"u":0.35,"v":-3.75,"c":1.85,"e":0.22},{"u":0.85,"v":-3.75,"c":1.85,"e":0.2},{"u":1.35,"v":-3.75,"c":1.9,"e":0.18},{"u":1.85,"v":-3.75,"c":1.9,"e":0.16},{"u":2.35,"v":-3.75,"c":1.9,"e":0.16},{"u":2.85,"v":-3.75,"c":1.95,"e":0.14},{"u":3.35,"v":-3.75,"c":1.95,"e":0.14},{"u":3.85,"v":-3.75,"c":1.9,"e":0.16},{"u":4.3,"v":-3.75,"c":1.95,"e":0.14},
{"u":-0.05,"v":-4.25,"c":1.85,"e":0.3},{"u":0.45,"v":-4.25,"c":1.9,"e":0.26},{"u":0.95,"v":-4.25,"c":1.9,"e":0.24},{"u":1.45,"v":-4.25,"c":1.95,"e":0.22},{"u":1.95,"v":-4.25,"c":1.9,"e":0.22},{"u":2.45,"v":-4.25,"c":1.9,"e":0.2},{"u":2.95,"v":-4.25,"c":1.95,"e":0.18},{"u":3.45,"v":-4.25,"c":1.9,"e":0.18},{"u":3.95,"v":-4.25,"c":1.9,"e":0.16},
{"u":0.0,"v":-4.75,"c":1.9,"e":0.32},{"u":0.5,"v":-4.75,"c":1.95,"e":0.3},{"u":1.0,"v":-4.75,"c":1.9,"e":0.28},{"u":1.5,"v":-4.75,"c":1.95,"e":0.26},{"u":2.0,"v":-4.75,"c":1.9,"e":0.24},{"u":2.5,"v":-4.75,"c":1.9,"e":0.22},{"u":3.0,"v":-4.75,"c":1.9,"e":0.2},{"u":3.4,"v":-4.75,"c":1.85,"e":0.18},
{"u":0.05,"v":-5.2,"c":1.9,"e":0.32},{"u":0.55,"v":-5.2,"c":1.95,"e":0.32},{"u":1.05,"v":-5.2,"c":1.9,"e":0.3},{"u":1.55,"v":-5.2,"c":1.9,"e":0.28},{"u":2.05,"v":-5.2,"c":1.9,"e":0.26},{"u":2.45,"v":-5.2,"c":1.85,"e":0.24},
{"u":-7.3,"v":-6.6,"c":0.2,"e":0.5},{"u":-7.1,"v":-6.9,"c":0.3,"e":0.55},{"u":-7.0,"v":-6.4,"c":0.2,"e":0.6},{"u":-6.9,"v":-7.1,"c":0.3,"e":0.5},{"u":-6.8,"v":-6.6,"c":0.2,"e":0.55},{"u":-6.7,"v":-6.2,"c":0.3,"e":0.6},{"u":-6.6,"v":-6.8,"c":0.2,"e":0.5},{"u":-6.5,"v":-6.4,"c":0.3,"e":0.55},{"u":-6.4,"v":-5.9,"c":0.2,"e":0.65},{"u":-6.3,"v":-6.6,"c":0.3,"e":0.5},{"u":-6.2,"v":-6.1,"c":0.4,"e":0.6},{"u":-6.1,"v":-5.6,"c":0.3,"e":0.7},{"u":-6.0,"v":-6.3,"c":0.2,"e":0.55},{"u":-5.9,"v":-5.2,"c":0.3,"e":0.8},{"u":-5.8,"v":-5.7,"c":0.4,"e":0.65},{"u":-6.2,"v":-5.4,"c":0.3,"e":0.75},{"u":-7.2,"v":-6.2,"c":0.2,"e":0.55},{"u":-6.8,"v":-5.9,"c":0.3,"e":0.6},{"u":-6.5,"v":-7.0,"c":0.2,"e":0.45},{"u":-6.0,"v":-5.0,"c":0.3,"e":0.85},
{"u":-7.15,"v":-6.45,"c":0.25,"e":0.55},{"u":-6.95,"v":-6.75,"c":0.2,"e":0.5},{"u":-6.75,"v":-6.4,"c":0.3,"e":0.58},{"u":-6.55,"v":-6.15,"c":0.25,"e":0.62},{"u":-6.35,"v":-6.3,"c":0.3,"e":0.55},{"u":-6.15,"v":-5.85,"c":0.35,"e":0.68},{"u":-5.95,"v":-5.5,"c":0.3,"e":0.75},{"u":-6.6,"v":-6.55,"c":0.2,"e":0.52},{"u":-6.85,"v":-7.0,"c":0.25,"e":0.48},{"u":-6.05,"v":-6.0,"c":0.3,"e":0.62}
],
"cc":[
{"k":1,"x":-0.85,"y":1.5,"g":"W"},{"k":1,"x":-0.78,"y":1.82,"g":"W"},{"k":1,"x":-0.7,"y":1.45,"g":"W"},{"k":1,"x":-0.72,"y":1.25,"g":"W"},{"k":1,"x":-0.8,"y":1.2,"g":"W"},{"k":1,"x":-0.82,"y":1.0,"g":"W"},{"k":1,"x":-0.75,"y":0.8,"g":"W"},{"k":1,"x":-0.65,"y":1.7,"g":"W"},{"k":1,"x":-0.6,"y":1.78,"g":"W"},{"k":1,"x":-0.55,"y":1.75,"g":"W"},{"k":1,"x":-0.62,"y":1.55,"g":"W"},{"k":1,"x":-0.58,"y":1.38,"g":"W"},{"k":1,"x":-0.65,"y":1.3,"g":"W"},{"k":1,"x":-0.6,"y":1.15,"g":"W"},{"k":1,"x":-0.55,"y":1.05,"g":"W"},{"k":1,"x":-0.5,"y":1.6,"g":"W"},{"k":1,"x":-0.45,"y":1.55,"g":"W"},{"k":1,"x":-0.48,"y":1.4,"g":"W"},{"k":1,"x":-0.52,"y":1.3,"g":"W"},{"k":1,"x":-0.45,"y":1.25,"g":"W"},{"k":1,"x":-0.5,"y":1.15,"g":"W"},{"k":1,"x":-0.42,"y":1.1,"g":"W"},{"k":1,"x":-0.55,"y":0.95,"g":"W"},{"k":1,"x":-0.5,"y":0.88,"g":"W"},{"k":1,"x":-0.45,"y":0.8,"g":"W"},{"k":1,"x":-0.48,"y":0.72,"g":"W"},{"k":1,"x":-0.42,"y":0.68,"g":"W"},{"k":1,"x":-0.58,"y":0.75,"g":"W"},{"k":1,"x":-0.4,"y":1.48,"g":"W"},{"k":1,"x":-0.38,"y":1.65,"g":"W"},{"k":1,"x":-0.35,"y":1.75,"g":"W"},{"k":1,"x":-0.3,"y":1.58,"g":"W"},{"k":1,"x":-0.35,"y":1.35,"g":"W"},{"k":1,"x":-0.3,"y":1.22,"g":"W"},{"k":1,"x":-0.38,"y":0.98,"g":"W"},{"k":1,"x":-0.32,"y":0.9,"g":"W"},{"k":1,"x":-0.28,"y":0.92,"g":"W"},{"k":1,"x":-0.25,"y":1.3,"g":"W"},{"k":1,"x":-0.22,"y":1.08,"g":"W"},{"k":1,"x":-0.18,"y":0.8,"g":"W"},{"k":1,"x":-0.2,"y":1.0,"g":"W"},{"k":1,"x":-0.15,"y":1.72,"g":"W"},{"k":1,"x":-0.15,"y":0.95,"g":"W"},{"k":1,"x":-0.12,"y":0.75,"g":"W"},{"k":1,"x":-0.45,"y":0.7,"g":"W"},{"k":1,"x":-0.52,"y":0.62,"g":"W"},{"k":1,"x":-0.62,"y":1.02,"g":"W"},{"k":1,"x":-0.68,"y":0.9,"g":"W"},{"k":1,"x":-0.4,"y":0.85,"g":"W"},{"k":1,"x":-0.35,"y":0.62,"g":"W"},{"k":1,"x":0.05,"y":0.6,"g":"W"},{"k":1,"x":-0.02,"y":0.42,"g":"W"},{"k":1,"x":0.2,"y":0.45,"g":"W"},{"k":1,"x":-0.1,"y":0.38,"g":"W"},{"k":1,"x":-0.03,"y":0.3,"g":"W"},{"k":1,"x":-0.25,"y":0.28,"g":"W"},{"k":1,"x":-0.6,"y":0.2,"g":"W"},{"k":1,"x":-0.38,"y":-0.15,"g":"W"},{"k":1,"x":-0.5,"y":-0.32,"g":"W"},{"k":1,"x":-0.18,"y":-0.45,"g":"W"},{"k":1,"x":0.55,"y":-0.4,"g":"W"},{"k":1,"x":0.3,"y":-0.18,"g":"T"},
{"k":2,"x":-0.88,"y":1.85,"g":"W"},{"k":2,"x":-0.7,"y":1.85,"g":"W"},{"k":2,"x":-0.6,"y":1.85,"g":"W"},{"k":2,"x":-0.35,"y":1.98,"g":"W"},{"k":2,"x":-0.5,"y":1.75,"g":"W"},{"k":2,"x":-0.25,"y":1.7,"g":"W"},{"k":2,"x":-0.78,"y":1.55,"g":"W"},{"k":2,"x":-0.72,"y":1.45,"g":"W"},{"k":2,"x":-0.65,"y":1.62,"g":"W"},{"k":2,"x":-0.58,"y":1.5,"g":"W"},{"k":2,"x":-0.52,"y":1.58,"g":"W"},{"k":2,"x":-0.45,"y":1.45,"g":"W"},{"k":2,"x":-0.4,"y":1.65,"g":"W"},{"k":2,"x":-0.32,"y":1.55,"g":"W"},{"k":2,"x":-0.25,"y":1.5,"g":"W"},{"k":2,"x":-0.18,"y":1.35,"g":"W"},{"k":2,"x":-0.8,"y":1.3,"g":"W"},{"k":2,"x":-0.72,"y":1.25,"g":"W"},{"k":2,"x":-0.66,"y":1.35,"g":"W"},{"k":2,"x":-0.6,"y":1.2,"g":"W"},{"k":2,"x":-0.55,"y":1.32,"g":"W"},{"k":2,"x":-0.48,"y":1.25,"g":"W"},{"k":2,"x":-0.42,"y":1.35,"g":"W"},{"k":2,"x":-0.35,"y":1.28,"g":"W"},{"k":2,"x":-0.28,"y":1.2,"g":"W"},{"k":2,"x":-0.2,"y":1.25,"g":"W"},{"k":2,"x":-0.12,"y":1.15,"g":"W"},{"k":2,"x":-0.75,"y":1.1,"g":"W"},{"k":2,"x":-0.68,"y":1.05,"g":"W"},{"k":2,"x":-0.62,"y":0.98,"g":"W"},{"k":2,"x":-0.55,"y":1.08,"g":"W"},{"k":2,"x":-0.5,"y":0.95,"g":"W"},{"k":2,"x":-0.45,"y":1.1,"g":"W"},{"k":2,"x":-0.38,"y":1.02,"g":"W"},{"k":2,"x":-0.3,"y":1.08,"g":"W"},{"k":2,"x":-0.22,"y":0.98,"g":"W"},{"k":2,"x":-0.15,"y":1.05,"g":"W"},{"k":2,"x":-0.05,"y":0.95,"g":"W"},{"k":2,"x":-0.78,"y":0.9,"g":"W"},{"k":2,"x":-0.7,"y":0.8,"g":"W"},{"k":2,"x":-0.6,"y":0.85,"g":"W"},{"k":2,"x":-0.52,"y":0.75,"g":"W"},{"k":2,"x":-0.45,"y":0.85,"g":"W"},{"k":2,"x":-0.4,"y":0.7,"g":"W"},{"k":2,"x":-0.33,"y":0.8,"g":"W"},{"k":2,"x":-0.25,"y":0.75,"g":"W"},{"k":2,"x":-0.18,"y":0.85,"g":"W"},{"k":2,"x":-0.1,"y":0.78,"g":"W"},{"k":2,"x":0.0,"y":0.85,"g":"W"},{"k":2,"x":0.05,"y":0.7,"g":"W"},{"k":2,"x":0.12,"y":0.8,"g":"W"},{"k":2,"x":0.2,"y":0.75,"g":"W"},{"k":2,"x":0.3,"y":0.7,"g":"W"},{"k":2,"x":0.4,"y":1.02,"g":"W"},{"k":2,"x":0.52,"y":1.05,"g":"W"},{"k":2,"x":-0.65,"y":0.65,"g":"W"},{"k":2,"x":-0.55,"y":0.58,"g":"W"},{"k":2,"x":-0.48,"y":0.5,"g":"W"},{"k":2,"x":-0.4,"y":0.6,"g":"W"},{"k":2,"x":-0.32,"y":0.52,"g":"W"},{"k":2,"x":-0.25,"y":0.62,"g":"W"},{"k":2,"x":-0.15,"y":0.55,"g":"W"},{"k":2,"x":-0.08,"y":0.48,"g":"W"},{"k":2,"x":0.02,"y":0.6,"g":"W"},{"k":2,"x":0.1,"y":0.5,"g":"W"},{"k":2,"x":0.18,"y":0.58,"g":"W"},{"k":2,"x":0.25,"y":0.45,"g":"W"},{"k":2,"x":0.32,"y":0.55,"g":"W"},{"k":2,"x":0.4,"y":0.5,"g":"W"},{"k":2,"x":-0.6,"y":0.42,"g":"W"},{"k":2,"x":-0.5,"y":0.35,"g":"W"},{"k":2,"x":-0.4,"y":0.3,"g":"W"},{"k":2,"x":-0.3,"y":0.4,"g":"W"},{"k":2,"x":-0.22,"y":0.25,"g":"W"},{"k":2,"x":-0.12,"y":0.35,"g":"W"},{"k":2,"x":-0.05,"y":0.2,"g":"W"},{"k":2,"x":0.05,"y":0.3,"g":"W"},{"k":2,"x":0.15,"y":0.2,"g":"W"},{"k":2,"x":0.22,"y":0.32,"g":"W"},{"k":2,"x":0.3,"y":0.15,"g":"W"},{"k":2,"x":0.42,"y":0.38,"g":"W"},{"k":2,"x":0.5,"y":0.25,"g":"W"},{"k":2,"x":0.6,"y":0.05,"g":"W"},{"k":2,"x":-0.35,"y":0.15,"g":"W"},{"k":2,"x":-0.25,"y":0.05,"g":"W"},{"k":2,"x":-0.15,"y":0.1,"g":"W"},{"k":2,"x":-0.05,"y":0.0,"g":"W"},{"k":2,"x":0.1,"y":0.05,"g":"W"},{"k":2,"x":0.35,"y":-0.05,"g":"W"},{"k":2,"x":0.45,"y":0.1,"g":"W"},{"k":2,"x":-0.2,"y":-0.2,"g":"W"},{"k":2,"x":-0.1,"y":-0.3,"g":"W"},{"k":2,"x":0.0,"y":-0.15,"g":"W"},{"k":2,"x":0.2,"y":-0.1,"g":"W"},{"k":2,"x":-0.3,"y":-0.3,"g":"W"},{"k":2,"x":-0.15,"y":-0.45,"g":"W"},{"k":2,"x":0.1,"y":-0.35,"g":"W"},{"k":2,"x":0.6,"y":-0.25,"g":"W"},{"k":2,"x":0.7,"y":0.05,"g":"W"},
{"k":2,"x":-0.65,"y":1.6,"g":"T"},{"k":2,"x":-0.48,"y":1.62,"g":"T"},{"k":2,"x":-0.4,"y":1.28,"g":"T"},{"k":2,"x":-0.3,"y":1.05,"g":"T"},{"k":2,"x":-0.5,"y":0.95,"g":"T"},{"k":2,"x":-0.55,"y":0.75,"g":"T"},{"k":2,"x":-0.35,"y":1.0,"g":"T"},{"k":2,"x":-0.2,"y":0.65,"g":"T"},{"k":2,"x":-0.4,"y":0.78,"g":"T"},{"k":2,"x":-0.6,"y":0.6,"g":"T"},{"k":2,"x":0.05,"y":0.62,"g":"T"},{"k":2,"x":0.0,"y":0.4,"g":"T"},{"k":2,"x":-0.1,"y":0.55,"g":"T"},{"k":2,"x":-0.2,"y":0.3,"g":"T"},{"k":2,"x":-0.1,"y":0.15,"g":"T"},{"k":2,"x":0.05,"y":0.1,"g":"T"},{"k":2,"x":0.15,"y":-0.1,"g":"T"},{"k":2,"x":0.25,"y":0.1,"g":"T"},{"k":2,"x":0.3,"y":0.0,"g":"T"},{"k":2,"x":0.5,"y":0.22,"g":"T"},{"k":2,"x":0.6,"y":0.78,"g":"T"},{"k":2,"x":1.2,"y":0.22,"g":"T"},{"k":2,"x":0.05,"y":-0.08,"g":"T"},{"k":2,"x":-0.05,"y":0.85,"g":"T"},{"k":2,"x":0.15,"y":0.92,"g":"T"},{"k":2,"x":0.0,"y":-0.4,"g":"T"},
{"k":3,"x":-0.15,"y":0.18,"g":"W"},{"k":3,"x":-0.05,"y":0.12,"g":"W"},{"k":3,"x":0.08,"y":-0.1,"g":"W"},{"k":3,"x":0.12,"y":0.05,"g":"W"},{"k":3,"x":0.15,"y":-0.3,"g":"W"},{"k":3,"x":0.18,"y":-0.15,"g":"W"},{"k":3,"x":0.2,"y":0.1,"g":"W"},{"k":3,"x":0.22,"y":-0.45,"g":"W"},{"k":3,"x":0.25,"y":-0.2,"g":"W"},{"k":3,"x":0.27,"y":0.2,"g":"W"},{"k":3,"x":0.3,"y":-0.05,"g":"W"},{"k":3,"x":0.3,"y":-0.35,"g":"W"},{"k":3,"x":0.32,"y":0.35,"g":"W"},{"k":3,"x":0.35,"y":0.15,"g":"W"},{"k":3,"x":0.35,"y":-0.2,"g":"W"},{"k":3,"x":0.38,"y":-0.5,"g":"W"},{"k":3,"x":0.4,"y":0.05,"g":"W"},{"k":3,"x":0.4,"y":-0.3,"g":"W"},{"k":3,"x":0.42,"y":0.28,"g":"W"},{"k":3,"x":0.45,"y":-0.1,"g":"W"},{"k":3,"x":0.45,"y":-0.4,"g":"W"},{"k":3,"x":0.48,"y":0.15,"g":"W"},{"k":3,"x":0.5,"y":-0.25,"g":"W"},{"k":3,"x":0.5,"y":0.32,"g":"W"},{"k":3,"x":0.52,"y":0.0,"g":"W"},{"k":3,"x":0.55,"y":-0.15,"g":"W"},{"k":3,"x":0.55,"y":-0.45,"g":"W"},{"k":3,"x":0.58,"y":0.2,"g":"W"},{"k":3,"x":0.6,"y":-0.3,"g":"W"},{"k":3,"x":0.6,"y":0.05,"g":"W"},{"k":3,"x":0.62,"y":-0.05,"g":"W"},{"k":3,"x":0.65,"y":-0.2,"g":"W"},{"k":3,"x":0.65,"y":-0.4,"g":"W"},{"k":3,"x":0.68,"y":0.1,"g":"W"},{"k":3,"x":0.7,"y":-0.1,"g":"W"},{"k":3,"x":0.72,"y":-0.3,"g":"W"},{"k":3,"x":0.72,"y":-0.58,"g":"W"},{"k":3,"x":0.75,"y":0.0,"g":"W"},{"k":3,"x":0.78,"y":-0.2,"g":"W"},{"k":3,"x":0.8,"y":-0.3,"g":"W"},{"k":3,"x":0.82,"y":-0.15,"g":"W"},{"k":3,"x":0.85,"y":-0.28,"g":"W"},{"k":3,"x":0.25,"y":0.0,"g":"W"},{"k":3,"x":0.35,"y":0.05,"g":"W"},{"k":3,"x":0.45,"y":0.1,"g":"W"},{"k":3,"x":0.55,"y":0.25,"g":"W"},{"k":3,"x":0.28,"y":-0.25,"g":"W"},{"k":3,"x":0.38,"y":-0.1,"g":"W"},{"k":3,"x":0.48,"y":-0.3,"g":"W"},{"k":3,"x":0.58,"y":-0.1,"g":"W"},{"k":3,"x":0.68,"y":-0.25,"g":"W"},{"k":3,"x":0.2,"y":-0.25,"g":"W"},{"k":3,"x":0.33,"y":-0.42,"g":"W"},{"k":3,"x":0.62,"y":0.15,"g":"W"},{"k":3,"x":1.0,"y":-0.05,"g":"W"},{"k":3,"x":1.25,"y":-0.55,"g":"W"},{"k":3,"x":0.5,"y":-0.52,"g":"W"},{"k":3,"x":0.42,"y":-0.15,"g":"W"},
{"k":3,"x":0.2,"y":-0.05,"g":"T"},{"k":3,"x":0.35,"y":0.02,"g":"T"},{"k":3,"x":0.5,"y":0.05,"g":"T"},{"k":3,"x":0.58,"y":0.2,"g":"T"},{"k":3,"x":0.25,"y":-0.18,"g":"T"},{"k":3,"x":0.45,"y":-0.2,"g":"T"},{"k":3,"x":0.38,"y":-0.38,"g":"T"},{"k":3,"x":0.72,"y":-0.1,"g":"T"},
{"k":4,"x":-0.35,"y":1.85,"g":"T"},{"k":4,"x":-0.9,"y":0.65,"g":"T"},{"k":4,"x":-0.8,"y":0.95,"g":"T"},{"k":4,"x":-0.75,"y":1.1,"g":"T"},{"k":4,"x":-0.7,"y":1.3,"g":"T"},{"k":4,"x":-0.65,"y":1.25,"g":"T"},{"k":4,"x":-0.62,"y":1.38,"g":"T"},{"k":4,"x":-0.58,"y":1.15,"g":"T"},{"k":4,"x":-0.55,"y":1.35,"g":"T"},{"k":4,"x":-0.5,"y":1.2,"g":"T"},{"k":4,"x":-0.45,"y":1.4,"g":"T"},{"k":4,"x":-0.42,"y":1.05,"g":"T"},{"k":4,"x":-0.38,"y":1.28,"g":"T"},{"k":4,"x":-0.32,"y":1.5,"g":"T"},{"k":4,"x":-0.3,"y":1.18,"g":"T"},{"k":4,"x":-0.25,"y":1.3,"g":"T"},{"k":4,"x":-0.2,"y":1.05,"g":"T"},{"k":4,"x":-0.15,"y":1.2,"g":"T"},{"k":4,"x":-0.12,"y":0.95,"g":"T"},{"k":4,"x":-0.05,"y":1.25,"g":"T"},{"k":4,"x":0.0,"y":1.15,"g":"T"},{"k":4,"x":0.05,"y":1.05,"g":"T"},{"k":4,"x":-0.7,"y":0.85,"g":"T"},{"k":4,"x":-0.6,"y":0.75,"g":"T"},{"k":4,"x":-0.52,"y":0.95,"g":"T"},{"k":4,"x":-0.45,"y":0.8,"g":"T"},{"k":4,"x":-0.38,"y":0.7,"g":"T"},{"k":4,"x":-0.3,"y":0.9,"g":"T"},{"k":4,"x":-0.22,"y":0.78,"g":"T"},{"k":4,"x":-0.15,"y":0.85,"g":"T"},{"k":4,"x":-0.08,"y":0.7,"g":"T"},{"k":4,"x":0.0,"y":0.85,"g":"T"},{"k":4,"x":0.08,"y":0.75,"g":"T"},{"k":4,"x":0.15,"y":0.9,"g":"T"},{"k":4,"x":0.25,"y":0.8,"g":"T"},{"k":4,"x":0.3,"y":0.6,"g":"T"},{"k":4,"x":0.42,"y":0.85,"g":"T"},{"k":4,"x":-0.75,"y":0.55,"g":"T"},{"k":4,"x":-0.62,"y":0.45,"g":"T"},{"k":4,"x":-0.5,"y":0.58,"g":"T"},{"k":4,"x":-0.4,"y":0.5,"g":"T"},{"k":4,"x":-0.3,"y":0.38,"g":"T"},{"k":4,"x":-0.2,"y":0.55,"g":"T"},{"k":4,"x":-0.12,"y":0.45,"g":"T"},{"k":4,"x":-0.05,"y":0.6,"g":"T"},{"k":4,"x":0.02,"y":0.42,"g":"T"},{"k":4,"x":0.1,"y":0.55,"g":"T"},{"k":4,"x":0.18,"y":0.4,"g":"T"},{"k":4,"x":0.25,"y":0.5,"g":"T"},{"k":4,"x":0.35,"y":0.45,"g":"T"},{"k":4,"x":0.5,"y":0.35,"g":"T"},{"k":4,"x":0.6,"y":0.3,"g":"T"},{"k":4,"x":0.75,"y":0.3,"g":"T"},{"k":4,"x":0.85,"y":0.3,"g":"T"},{"k":4,"x":0.98,"y":0.32,"g":"T"},{"k":4,"x":-0.55,"y":0.3,"g":"T"},{"k":4,"x":-0.35,"y":0.2,"g":"T"},{"k":4,"x":-0.2,"y":0.25,"g":"T"},{"k":4,"x":-0.1,"y":0.15,"g":"T"},{"k":4,"x":0.0,"y":0.3,"g":"T"},{"k":4,"x":0.05,"y":0.2,"g":"T"},{"k":4,"x":0.12,"y":0.1,"g":"T"},{"k":4,"x":0.22,"y":0.2,"g":"T"},{"k":4,"x":0.3,"y":0.12,"g":"T"},{"k":4,"x":0.4,"y":0.25,"g":"T"},{"k":4,"x":0.48,"y":0.1,"g":"T"},{"k":4,"x":-0.4,"y":0.0,"g":"T"},{"k":4,"x":-0.25,"y":0.0,"g":"T"},{"k":4,"x":0.0,"y":0.05,"g":"T"},{"k":4,"x":0.0,"y":-0.1,"g":"T"},{"k":4,"x":0.02,"y":-0.2,"g":"T"},{"k":4,"x":0.0,"y":-0.35,"g":"T"},{"k":4,"x":0.15,"y":-0.05,"g":"T"},{"k":4,"x":0.3,"y":-0.1,"g":"T"},{"k":4,"x":0.35,"y":-0.25,"g":"T"},{"k":4,"x":0.55,"y":-0.15,"g":"T"},{"k":4,"x":-0.1,"y":-0.05,"g":"T"},{"k":4,"x":0.05,"y":0.0,"g":"T"},{"k":4,"x":0.0,"y":0.55,"g":"T"},{"k":4,"x":-0.02,"y":0.65,"g":"T"},{"k":4,"x":0.08,"y":0.35,"g":"T"},
{"k":4,"x":-0.05,"y":0.38,"g":"W"},{"k":4,"x":0.43,"y":0.3,"g":"W"},{"k":4,"x":0.3,"y":0.05,"g":"W"},{"k":4,"x":0.48,"y":-0.02,"g":"W"},{"k":4,"x":-0.38,"y":-0.05,"g":"W"},{"k":4,"x":0.65,"y":-0.2,"g":"W"},
{"k":5,"x":-0.12,"y":0.25,"g":"T"},{"k":5,"x":-0.18,"y":0.05,"g":"T"},{"k":5,"x":0.0,"y":0.0,"g":"T"},{"k":5,"x":0.05,"y":-0.2,"g":"T"},{"k":5,"x":0.08,"y":0.1,"g":"T"},{"k":5,"x":0.12,"y":-0.05,"g":"T"},{"k":5,"x":0.15,"y":0.3,"g":"T"},{"k":5,"x":0.15,"y":-0.3,"g":"T"},{"k":5,"x":0.18,"y":0.15,"g":"T"},{"k":5,"x":0.2,"y":-0.15,"g":"T"},{"k":5,"x":0.22,"y":0.05,"g":"T"},{"k":5,"x":0.25,"y":-0.35,"g":"T"},{"k":5,"x":0.25,"y":0.35,"g":"T"},{"k":5,"x":0.28,"y":-0.05,"g":"T"},{"k":5,"x":0.3,"y":0.2,"g":"T"},{"k":5,"x":0.3,"y":-0.25,"g":"T"},{"k":5,"x":0.32,"y":0.45,"g":"T"},{"k":5,"x":0.33,"y":0.05,"g":"T"},{"k":5,"x":0.35,"y":-0.45,"g":"T"},{"k":5,"x":0.35,"y":-0.12,"g":"T"},{"k":5,"x":0.38,"y":0.3,"g":"T"},{"k":5,"x":0.38,"y":-0.3,"g":"T"},{"k":5,"x":0.4,"y":0.1,"g":"T"},{"k":5,"x":0.4,"y":-0.05,"g":"T"},{"k":5,"x":0.42,"y":-0.2,"g":"T"},{"k":5,"x":0.42,"y":-0.5,"g":"T"},{"k":5,"x":0.45,"y":0.4,"g":"T"},{"k":5,"x":0.45,"y":0.15,"g":"T"},{"k":5,"x":0.45,"y":-0.35,"g":"T"},{"k":5,"x":0.48,"y":0.0,"g":"T"},{"k":5,"x":0.48,"y":-0.15,"g":"T"},{"k":5,"x":0.5,"y":0.25,"g":"T"},{"k":5,"x":0.5,"y":-0.28,"g":"T"},{"k":5,"x":0.5,"y":-0.6,"g":"T"},{"k":5,"x":0.52,"y":0.08,"g":"T"},{"k":5,"x":0.52,"y":-0.42,"g":"T"},{"k":5,"x":0.55,"y":-0.08,"g":"T"},{"k":5,"x":0.55,"y":-0.2,"g":"T"},{"k":5,"x":0.55,"y":0.35,"g":"T"},{"k":5,"x":0.58,"y":0.15,"g":"T"},{"k":5,"x":0.58,"y":-0.35,"g":"T"},{"k":5,"x":0.6,"y":0.0,"g":"T"},{"k":5,"x":0.6,"y":-0.5,"g":"T"},{"k":5,"x":0.62,"y":-0.15,"g":"T"},{"k":5,"x":0.62,"y":0.28,"g":"T"},{"k":5,"x":0.65,"y":-0.28,"g":"T"},{"k":5,"x":0.65,"y":0.05,"g":"T"},{"k":5,"x":0.68,"y":-0.42,"g":"T"},{"k":5,"x":0.68,"y":0.2,"g":"T"},{"k":5,"x":0.7,"y":-0.1,"g":"T"},{"k":5,"x":0.72,"y":-0.22,"g":"T"},{"k":5,"x":0.72,"y":0.4,"g":"T"},{"k":5,"x":0.75,"y":0.0,"g":"T"},{"k":5,"x":0.75,"y":-0.35,"g":"T"},{"k":5,"x":0.78,"y":0.12,"g":"T"},{"k":5,"x":0.78,"y":-0.55,"g":"T"},{"k":5,"x":0.8,"y":-0.18,"g":"T"},{"k":5,"x":0.82,"y":0.25,"g":"T"},{"k":5,"x":0.85,"y":-0.3,"g":"T"},{"k":5,"x":0.85,"y":-0.05,"g":"T"},{"k":5,"x":0.88,"y":0.1,"g":"T"},{"k":5,"x":0.9,"y":-0.2,"g":"T"},{"k":5,"x":0.92,"y":-0.42,"g":"T"},{"k":5,"x":0.95,"y":0.0,"g":"T"},{"k":5,"x":0.98,"y":-0.3,"g":"T"},{"k":5,"x":1.02,"y":-0.15,"g":"T"},{"k":5,"x":1.05,"y":-0.55,"g":"T"},{"k":5,"x":0.4,"y":-0.2,"g":"T"},{"k":5,"x":0.45,"y":-0.1,"g":"T"},{"k":5,"x":0.5,"y":-0.12,"g":"T"},{"k":5,"x":0.55,"y":-0.25,"g":"T"},{"k":5,"x":0.6,"y":-0.2,"g":"T"},{"k":5,"x":0.65,"y":-0.15,"g":"T"},{"k":5,"x":0.5,"y":0.05,"g":"T"},{"k":5,"x":0.6,"y":0.1,"g":"T"},{"k":5,"x":0.4,"y":0.2,"g":"T"},{"k":5,"x":0.7,"y":-0.3,"g":"T"},{"k":5,"x":0.35,"y":0.0,"g":"T"},{"k":5,"x":0.55,"y":0.0,"g":"T"},{"k":5,"x":0.62,"y":-0.4,"g":"T"},{"k":5,"x":0.48,"y":-0.48,"g":"T"},{"k":5,"x":0.28,"y":0.1,"g":"T"},{"k":5,"x":0.3,"y":-0.4,"g":"T"},{"k":5,"x":0.65,"y":0.35,"g":"T"},{"k":5,"x":0.92,"y":0.3,"g":"T"},{"k":5,"x":0.5,"y":0.45,"g":"T"},{"k":5,"x":0.72,"y":0.48,"g":"T"},
{"k":5,"x":0.35,"y":0.5,"g":"W"},{"k":5,"x":0.75,"y":0.5,"g":"W"},{"k":5,"x":0.7,"y":0.18,"g":"W"},{"k":5,"x":0.8,"y":0.28,"g":"W"},{"k":5,"x":0.82,"y":-0.05,"g":"W"},{"k":5,"x":0.15,"y":-0.3,"g":"W"},{"k":5,"x":0.6,"y":-0.5,"g":"W"},{"k":5,"x":0.2,"y":-0.15,"g":"W"},
{"k":6,"x":-0.02,"y":0.5,"g":"T"},{"k":6,"x":0.25,"y":0.55,"g":"T"},{"k":6,"x":0.45,"y":0.62,"g":"T"},{"k":6,"x":0.85,"y":0.55,"g":"T"},{"k":6,"x":0.0,"y":0.15,"g":"T"},{"k":6,"x":0.02,"y":-0.05,"g":"T"},{"k":6,"x":0.05,"y":0.08,"g":"T"},{"k":6,"x":0.08,"y":-0.2,"g":"T"},{"k":6,"x":0.12,"y":0.2,"g":"T"},{"k":6,"x":0.15,"y":0.05,"g":"T"},{"k":6,"x":0.18,"y":-0.1,"g":"T"},{"k":6,"x":0.2,"y":0.25,"g":"T"},{"k":6,"x":0.22,"y":-0.3,"g":"T"},{"k":6,"x":0.25,"y":0.1,"g":"T"},{"k":6,"x":0.28,"y":-0.05,"g":"T"},{"k":6,"x":0.3,"y":0.28,"g":"T"},{"k":6,"x":0.3,"y":-0.2,"g":"T"},{"k":6,"x":0.32,"y":0.12,"g":"T"},{"k":6,"x":0.35,"y":-0.35,"g":"T"},{"k":6,"x":0.35,"y":0.0,"g":"T"},{"k":6,"x":0.38,"y":0.2,"g":"T"},{"k":6,"x":0.4,"y":-0.15,"g":"T"},{"k":6,"x":0.42,"y":0.05,"g":"T"},{"k":6,"x":0.42,"y":-0.45,"g":"T"},{"k":6,"x":0.45,"y":0.3,"g":"T"},{"k":6,"x":0.45,"y":-0.25,"g":"T"},{"k":6,"x":0.48,"y":-0.05,"g":"T"},{"k":6,"x":0.5,"y":0.15,"g":"T"},{"k":6,"x":0.5,"y":-0.38,"g":"T"},{"k":6,"x":0.52,"y":-0.6,"g":"T"},{"k":6,"x":0.52,"y":0.0,"g":"T"},{"k":6,"x":0.55,"y":-0.2,"g":"T"},{"k":6,"x":0.55,"y":0.22,"g":"T"},{"k":6,"x":0.58,"y":-0.1,"g":"T"},{"k":6,"x":0.58,"y":-0.45,"g":"T"},{"k":6,"x":0.6,"y":0.05,"g":"T"},{"k":6,"x":0.62,"y":-0.3,"g":"T"},{"k":6,"x":0.62,"y":0.3,"g":"T"},{"k":6,"x":0.65,"y":-0.15,"g":"T"},{"k":6,"x":0.68,"y":0.1,"g":"T"},{"k":6,"x":0.68,"y":-0.4,"g":"T"},{"k":6,"x":0.7,"y":-0.05,"g":"T"},{"k":6,"x":0.72,"y":-0.25,"g":"T"},{"k":6,"x":0.75,"y":0.15,"g":"T"},{"k":6,"x":0.75,"y":-0.45,"g":"T"},{"k":6,"x":0.78,"y":-0.1,"g":"T"},{"k":6,"x":0.8,"y":-0.3,"g":"T"},{"k":6,"x":0.82,"y":0.05,"g":"T"},{"k":6,"x":0.85,"y":-0.2,"g":"T"},{"k":6,"x":0.88,"y":-0.35,"g":"T"},{"k":6,"x":0.9,"y":-0.05,"g":"T"},{"k":6,"x":0.95,"y":-0.25,"g":"T"},{"k":6,"x":0.55,"y":-0.3,"g":"T"},{"k":6,"x":0.45,"y":-0.1,"g":"T"},{"k":6,"x":0.6,"y":-0.2,"g":"T"},{"k":6,"x":0.5,"y":-0.15,"g":"T"},{"k":6,"x":0.4,"y":0.0,"g":"T"},{"k":6,"x":0.65,"y":0.0,"g":"T"},{"k":6,"x":0.7,"y":-0.35,"g":"T"},{"k":6,"x":0.35,"y":-0.15,"g":"T"},{"k":6,"x":0.25,"y":-0.15,"g":"T"},{"k":6,"x":0.48,"y":-0.3,"g":"T"},{"k":6,"x":0.58,"y":0.1,"g":"T"},{"k":6,"x":0.38,"y":-0.28,"g":"T"},{"k":6,"x":0.65,"y":-0.5,"g":"T"},{"k":6,"x":0.72,"y":0.25,"g":"T"},
{"k":6,"x":0.3,"y":-0.3,"g":"W"},{"k":6,"x":0.7,"y":-0.45,"g":"W"},{"k":6,"x":0.58,"y":-0.12,"g":"W"},
{"k":7,"x":-0.62,"y":2.02,"g":"W"},{"k":7,"x":-0.6,"y":1.38,"g":"W"},{"k":7,"x":-0.58,"y":1.4,"g":"W"},{"k":7,"x":-0.2,"y":1.3,"g":"W"},{"k":7,"x":-0.42,"y":1.15,"g":"W"},{"k":7,"x":-0.3,"y":1.12,"g":"W"},{"k":7,"x":-0.6,"y":1.08,"g":"W"},{"k":7,"x":-0.55,"y":0.9,"g":"W"},{"k":7,"x":-0.38,"y":0.88,"g":"W"},{"k":7,"x":-0.22,"y":0.88,"g":"W"},{"k":7,"x":-0.55,"y":0.78,"g":"W"},{"k":7,"x":-0.35,"y":0.72,"g":"W"},{"k":7,"x":-0.28,"y":0.75,"g":"W"},{"k":7,"x":-0.45,"y":0.68,"g":"W"},{"k":7,"x":-0.62,"y":0.55,"g":"W"},{"k":7,"x":-0.5,"y":0.5,"g":"W"},{"k":7,"x":-0.3,"y":0.45,"g":"W"},{"k":7,"x":-0.6,"y":0.3,"g":"W"},{"k":7,"x":-0.62,"y":0.22,"g":"W"},{"k":7,"x":-0.4,"y":0.3,"g":"W"},{"k":7,"x":-0.25,"y":0.25,"g":"W"},{"k":7,"x":-0.15,"y":0.28,"g":"W"},{"k":7,"x":-0.1,"y":0.3,"g":"W"},{"k":7,"x":-0.02,"y":0.25,"g":"W"},{"k":7,"x":0.1,"y":0.25,"g":"W"},{"k":7,"x":-0.68,"y":0.05,"g":"W"},{"k":7,"x":-0.45,"y":0.05,"g":"W"},{"k":7,"x":-0.3,"y":0.08,"g":"W"},{"k":7,"x":-0.2,"y":0.1,"g":"W"},{"k":7,"x":0.18,"y":0.15,"g":"W"},{"k":7,"x":0.4,"y":-0.05,"g":"W"},{"k":7,"x":0.4,"y":-0.15,"g":"W"},{"k":7,"x":0.4,"y":-0.3,"g":"W"},{"k":7,"x":0.5,"y":-0.1,"g":"W"},{"k":7,"x":0.45,"y":0.85,"g":"W"},{"k":7,"x":0.75,"y":0.28,"g":"W"},{"k":7,"x":1.1,"y":0.33,"g":"W"},{"k":7,"x":-0.28,"y":-0.5,"g":"W"},{"k":7,"x":-0.4,"y":-0.35,"g":"W"},{"k":7,"x":0.0,"y":-0.4,"g":"W"},
{"k":7,"x":-0.65,"y":0.1,"g":"T"},{"k":7,"x":-0.5,"y":0.05,"g":"T"},{"k":7,"x":-0.55,"y":-0.2,"g":"T"},{"k":7,"x":-0.48,"y":-0.35,"g":"T"},{"k":7,"x":-0.42,"y":-0.1,"g":"T"},{"k":7,"x":-0.38,"y":0.05,"g":"T"},{"k":7,"x":-0.35,"y":-0.25,"g":"T"},{"k":7,"x":-0.32,"y":-0.05,"g":"T"},{"k":7,"x":-0.3,"y":-0.4,"g":"T"},{"k":7,"x":-0.28,"y":0.15,"g":"T"},{"k":7,"x":-0.25,"y":-0.15,"g":"T"},{"k":7,"x":-0.22,"y":-0.3,"g":"T"},{"k":7,"x":-0.2,"y":0.0,"g":"T"},{"k":7,"x":-0.18,"y":-0.2,"g":"T"},{"k":7,"x":-0.15,"y":-0.45,"g":"T"},{"k":7,"x":-0.12,"y":-0.1,"g":"T"},{"k":7,"x":-0.1,"y":0.05,"g":"T"},{"k":7,"x":-0.08,"y":-0.25,"g":"T"},{"k":7,"x":-0.05,"y":-0.05,"g":"T"},{"k":7,"x":-0.02,"y":-0.15,"g":"T"},{"k":7,"x":0.0,"y":0.1,"g":"T"},{"k":7,"x":0.0,"y":-0.3,"g":"T"},{"k":7,"x":0.0,"y":0.35,"g":"T"},{"k":7,"x":0.02,"y":-0.55,"g":"T"},{"k":7,"x":0.05,"y":-0.05,"g":"T"},{"k":7,"x":0.08,"y":-0.2,"g":"T"},{"k":7,"x":0.1,"y":0.1,"g":"T"},{"k":7,"x":0.12,"y":-0.35,"g":"T"},{"k":7,"x":0.15,"y":-0.1,"g":"T"},{"k":7,"x":0.18,"y":0.12,"g":"T"},{"k":7,"x":0.2,"y":-0.25,"g":"T"},{"k":7,"x":0.22,"y":-0.5,"g":"T"},{"k":7,"x":0.28,"y":-0.05,"g":"T"},{"k":7,"x":0.32,"y":0.05,"g":"T"},{"k":7,"x":0.38,"y":-0.2,"g":"T"},{"k":7,"x":0.45,"y":-0.4,"g":"T"},{"k":7,"x":0.6,"y":0.35,"g":"T"},{"k":7,"x":0.45,"y":0.2,"g":"T"},{"k":7,"x":0.4,"y":0.92,"g":"T"},{"k":7,"x":1.15,"y":-0.25,"g":"T"},{"k":7,"x":-0.4,"y":0.2,"g":"T"},{"k":7,"x":-0.6,"y":-0.05,"g":"T"},{"k":7,"x":0.25,"y":0.1,"g":"T"},{"k":7,"x":-0.15,"y":0.2,"g":"T"},{"k":7,"x":0.05,"y":0.22,"g":"T"},{"k":7,"x":0.5,"y":0.0,"g":"T"},{"k":7,"x":-0.45,"y":-0.55,"g":"T"},{"k":7,"x":0.3,"y":-0.3,"g":"T"}
]
},
"resolve":{"scale":{"color":"independent"}},
"bounds":"flush",
"spacing":468,
"vconcat":[
{"bounds":"flush","spacing":5,"resolve":{"scale":{"color":"independent"}},"hconcat":[
 {"width":1,"height":319,"data":{"values":[{}]},"mark":{"type":"point","opacity":0},"encoding":{}},
 {"bounds":"flush","spacing":93,"resolve":{"scale":{"color":"independent"}},"hconcat":[
  {"width":402,"height":319,"layer":[
   {"data":{"name":"vol"},"transform":[{"filter":"datum.t=='l'"}],"mark":{"type":"circle","size":18,"color":"#d3d8da","opacity":1},"encoding":{"x":{"field":"x","type":"quantitative","scale":{"domain":[-2.74,2.74],"nice":false,"zero":false},"axis":{"values":[-2,-1,0,1,2],"format":"d","title":null,"tickSize":6,"domainWidth":1.2,"tickWidth":1.2,"labelPadding":2,"labelFontSize":13}},"y":{"field":"y","type":"quantitative","scale":{"domain":[-4.5,90.5],"nice":false,"zero":false},"axis":{"values":[0,25,50,75],"format":"d","title":null,"tickSize":6,"domainWidth":1.2,"tickWidth":1.2,"labelPadding":3,"labelFontSize":13}}}},
   {"data":{"name":"vol"},"transform":[{"filter":"datum.t=='d'"}],"mark":{"type":"circle","size":18,"color":"#7b848c","opacity":1},"encoding":{"x":{"field":"x","type":"quantitative","scale":{"domain":[-2.74,2.74],"nice":false,"zero":false}},"y":{"field":"y","type":"quantitative","scale":{"domain":[-4.5,90.5],"nice":false,"zero":false}}}},
   {"data":{"values":[{"v":-0.585},{"v":0.585}]},"mark":{"type":"rule","color":"#f9705f","strokeWidth":1.3},"encoding":{"x":{"field":"v","type":"quantitative","scale":{"domain":[-2.74,2.74],"nice":false,"zero":false}}}},
   {"data":{"values":[{"v":1.3}]},"mark":{"type":"rule","color":"#f9705f","strokeWidth":1.3},"encoding":{"y":{"field":"v","type":"quantitative","scale":{"domain":[-4.5,90.5],"nice":false,"zero":false}}}},
   {"data":{"name":"genes"},"mark":{"type":"rule","strokeWidth":1},"encoding":{"x":{"field":"px","type":"quantitative","scale":{"domain":[-2.74,2.74],"nice":false,"zero":false}},"y":{"field":"py","type":"quantitative","scale":{"domain":[-4.5,90.5],"nice":false,"zero":false}},"x2":{"field":"lx"},"y2":{"field":"ly"},"color":{"condition":{"test":"datum.s=='L'","value":"#f23c3c"},"value":"#3d5ff2"}}},
   {"data":{"name":"genes"},"mark":{"type":"circle","size":20,"opacity":1},"encoding":{"x":{"field":"px","type":"quantitative","scale":{"domain":[-2.74,2.74],"nice":false,"zero":false}},"y":{"field":"py","type":"quantitative","scale":{"domain":[-4.5,90.5],"nice":false,"zero":false}},"color":{"condition":{"test":"datum.s=='L'","value":"#ec1c54"},"value":"#2d6cf0"}}},
   {"data":{"name":"genes"},"transform":[{"filter":"datum.a=='l'"}],"mark":{"type":"text","align":"left","baseline":"middle","fontStyle":"italic","fontSize":14},"encoding":{"x":{"field":"tx","type":"quantitative","scale":{"domain":[-2.74,2.74],"nice":false,"zero":false}},"y":{"field":"ty","type":"quantitative","scale":{"domain":[-4.5,90.5],"nice":false,"zero":false}},"text":{"field":"n"},"color":{"condition":{"test":"datum.s=='L'","value":"#ff1a1a"},"value":"#1f45ff"}}},
   {"data":{"name":"genes"},"transform":[{"filter":"datum.a=='r'"}],"mark":{"type":"text","align":"right","baseline":"middle","fontStyle":"italic","fontSize":14},"encoding":{"x":{"field":"tx","type":"quantitative","scale":{"domain":[-2.74,2.74],"nice":false,"zero":false}},"y":{"field":"ty","type":"quantitative","scale":{"domain":[-4.5,90.5],"nice":false,"zero":false}},"text":{"field":"n"},"color":{"condition":{"test":"datum.s=='L'","value":"#ff1a1a"},"value":"#1f45ff"}}},
   {"data":{"values":[{}]},"mark":{"type":"text","text":"53 genes","fontSize":18,"color":"#ff1a1a","align":"center","baseline":"alphabetic"},"encoding":{"x":{"datum":-1.678,"type":"quantitative","scale":{"domain":[-2.74,2.74],"nice":false,"zero":false}},"y":{"datum":88.4,"type":"quantitative","scale":{"domain":[-4.5,90.5],"nice":false,"zero":false}}}},
   {"data":{"values":[{}]},"mark":{"type":"text","text":"96 genes","fontSize":18,"color":"#1f45ff","align":"center","baseline":"alphabetic"},"encoding":{"x":{"datum":1.637,"type":"quantitative","scale":{"domain":[-2.74,2.74],"nice":false,"zero":false}},"y":{"datum":88.4,"type":"quantitative","scale":{"domain":[-4.5,90.5],"nice":false,"zero":false}}}},
   {"data":{"values":[{}]},"mark":{"type":"text","text":"a","fontSize":32,"color":"#000","align":"left","baseline":"alphabetic"},"encoding":{"x":{"datum":-3.765,"type":"quantitative","scale":{"domain":[-2.74,2.74],"nice":false,"zero":false}},"y":{"datum":87.8,"type":"quantitative","scale":{"domain":[-4.5,90.5],"nice":false,"zero":false}}}},
   {"data":{"values":[{}]},"mark":{"type":"text","text":"log","fontSize":18,"align":"left","baseline":"alphabetic"},"encoding":{"x":{"datum":-0.846,"type":"quantitative","scale":{"domain":[-2.74,2.74],"nice":false,"zero":false}},"y":{"datum":-17.26,"type":"quantitative","scale":{"domain":[-4.5,90.5],"nice":false,"zero":false}}}},
   {"data":{"values":[{}]},"mark":{"type":"text","text":"2","fontSize":12,"align":"left","baseline":"alphabetic"},"encoding":{"x":{"datum":-0.518,"type":"quantitative","scale":{"domain":[-2.74,2.74],"nice":false,"zero":false}},"y":{"datum":-18.45,"type":"quantitative","scale":{"domain":[-4.5,90.5],"nice":false,"zero":false}}}},
   {"data":{"values":[{}]},"mark":{"type":"text","text":"FC(T","fontSize":18,"align":"left","baseline":"alphabetic"},"encoding":{"x":{"datum":-0.423,"type":"quantitative","scale":{"domain":[-2.74,2.74],"nice":false,"zero":false}},"y":{"datum":-17.26,"type":"quantitative","scale":{"domain":[-4.5,90.5],"nice":false,"zero":false}}}},
   {"data":{"values":[{}]},"mark":{"type":"text","text":"CM","fontSize":12,"align":"left","baseline":"alphabetic"},"encoding":{"x":{"datum":0.15,"type":"quantitative","scale":{"domain":[-2.74,2.74],"nice":false,"zero":false}},"y":{"datum":-18.45,"type":"quantitative","scale":{"domain":[-4.5,90.5],"nice":false,"zero":false}}}},
   {"data":{"values":[{}]},"mark":{"type":"text","text":"/T","fontSize":18,"align":"left","baseline":"alphabetic"},"encoding":{"x":{"datum":0.396,"type":"quantitative","scale":{"domain":[-2.74,2.74],"nice":false,"zero":false}},"y":{"datum":-17.26,"type":"quantitative","scale":{"domain":[-4.5,90.5],"nice":false,"zero":false}}}},
   {"data":{"values":[{}]},"mark":{"type":"text","text":"EM","fontSize":12,"align":"left","baseline":"alphabetic"},"encoding":{"x":{"datum":0.641,"type":"quantitative","scale":{"domain":[-2.74,2.74],"nice":false,"zero":false}},"y":{"datum":-18.45,"type":"quantitative","scale":{"domain":[-4.5,90.5],"nice":false,"zero":false}}}},
   {"data":{"values":[{}]},"mark":{"type":"text","text":")","fontSize":18,"align":"left","baseline":"alphabetic"},"encoding":{"x":{"datum":0.873,"type":"quantitative","scale":{"domain":[-2.74,2.74],"nice":false,"zero":false}},"y":{"datum":-17.26,"type":"quantitative","scale":{"domain":[-4.5,90.5],"nice":false,"zero":false}}}},
   {"data":{"values":[{}]},"mark":{"type":"text","text":"−log","fontSize":17,"angle":270,"align":"left","baseline":"alphabetic"},"encoding":{"x":{"datum":-3.267,"type":"quantitative","scale":{"domain":[-2.74,2.74],"nice":false,"zero":false}},"y":{"datum":26.9,"type":"quantitative","scale":{"domain":[-4.5,90.5],"nice":false,"zero":false}}}},
   {"data":{"values":[{}]},"mark":{"type":"text","text":"2","fontSize":11.5,"angle":270,"align":"left","baseline":"alphabetic"},"encoding":{"x":{"datum":-3.213,"type":"quantitative","scale":{"domain":[-2.74,2.74],"nice":false,"zero":false}},"y":{"datum":36.6,"type":"quantitative","scale":{"domain":[-4.5,90.5],"nice":false,"zero":false}}}},
   {"data":{"values":[{}]},"mark":{"type":"text","text":"(","fontSize":17,"angle":270,"align":"left","baseline":"alphabetic"},"encoding":{"x":{"datum":-3.267,"type":"quantitative","scale":{"domain":[-2.74,2.74],"nice":false,"zero":false}},"y":{"datum":38.5,"type":"quantitative","scale":{"domain":[-4.5,90.5],"nice":false,"zero":false}}}},
   {"data":{"values":[{}]},"mark":{"type":"text","text":"p_adj","fontSize":17,"fontStyle":"italic","angle":270,"align":"left","baseline":"alphabetic"},"encoding":{"x":{"datum":-3.267,"type":"quantitative","scale":{"domain":[-2.74,2.74],"nice":false,"zero":false}},"y":{"datum":40.2,"type":"quantitative","scale":{"domain":[-4.5,90.5],"nice":false,"zero":false}}}},
   {"data":{"values":[{}]},"mark":{"type":"text","text":")","fontSize":17,"angle":270,"align":"left","baseline":"alphabetic"},"encoding":{"x":{"datum":-3.267,"type":"quantitative","scale":{"domain":[-2.74,2.74],"nice":false,"zero":false}},"y":{"datum":52.6,"type":"quantitative","scale":{"domain":[-4.5,90.5],"nice":false,"zero":false}}}}
  ]},
  {"bounds":"flush","spacing":23,"resolve":{"scale":{"color":"independent"}},"vconcat":[
   {"width":1,"height":1,"data":{"values":[{}]},"mark":{"type":"point","opacity":0},"encoding":{}},
   {"bounds":"flush","spacing":110,"resolve":{"scale":{"color":"independent"},"legend":{"color":"independent"}},"hconcat":[
    {"width":217,"height":214,"layer":[
     {"data":{"name":"umap"},"mark":{"type":"circle","size":16,"opacity":0.85},"encoding":{"x":{"field":"u","type":"quantitative","scale":{"domain":[-8.6,5.76],"nice":false,"zero":false},"axis":{"values":[-5,0,5],"format":"d","title":"UMAP_1","titleFontSize":15,"tickSize":4,"labelColor":"#333","labelFontSize":13,"titlePadding":3,"labelPadding":2,"domainColor":"#333","tickColor":"#333"}},"y":{"field":"v","type":"quantitative","scale":{"domain":[-8.72,7.6],"nice":false,"zero":false},"axis":{"values":[-8,-4,0,4],"format":"d","title":"UMAP_2","titleFontSize":15,"tickSize":4,"labelColor":"#333","labelFontSize":13,"titlePadding":4,"labelPadding":2,"domainColor":"#333","tickColor":"#333"}},"color":{"field":"c","type":"quantitative","scale":{"domain":[-0.31,2.25],"range":["#d3d3d3","#0000ff"],"interpolate":"lab"},"legend":{"orient":"none","legendX":232,"legendY":69,"title":null,"gradientLength":82,"gradientThickness":16,"values":[0,0.5,1,1.5,2],"format":".1f","labelFontSize":13,"labelColor":"#333","labelOverlap":false,"gradientStrokeWidth":0,"direction":"vertical","labelOffset":6}}}},
     {"data":{"values":[{}]},"mark":{"type":"text","text":"T","fontSize":26,"align":"left","baseline":"alphabetic"},"encoding":{"x":{"datum":-5.08,"type":"quantitative","scale":{"domain":[-8.6,5.76],"nice":false,"zero":false}},"y":{"datum":8.2,"type":"quantitative","scale":{"domain":[-8.72,7.6],"nice":false,"zero":false}}}},
     {"data":{"values":[{}]},"mark":{"type":"text","text":"CM","fontSize":17,"align":"left","baseline":"alphabetic"},"encoding":{"x":{"datum":-4.03,"type":"quantitative","scale":{"domain":[-8.6,5.76],"nice":false,"zero":false}},"y":{"datum":7.8,"type":"quantitative","scale":{"domain":[-8.72,7.6],"nice":false,"zero":false}}}},
     {"data":{"values":[{}]},"mark":{"type":"text","text":"score","fontSize":26,"align":"left","baseline":"alphabetic"},"encoding":{"x":{"datum":-1.8,"type":"quantitative","scale":{"domain":[-8.6,5.76],"nice":false,"zero":false}},"y":{"datum":8.2,"type":"quantitative","scale":{"domain":[-8.72,7.6],"nice":false,"zero":false}}}},
     {"data":{"values":[{}]},"mark":{"type":"text","text":"b","fontSize":32,"align":"left","baseline":"alphabetic"},"encoding":{"x":{"datum":-12.52,"type":"quantitative","scale":{"domain":[-8.6,5.76],"nice":false,"zero":false}},"y":{"datum":8.68,"type":"quantitative","scale":{"domain":[-8.72,7.6],"nice":false,"zero":false}}}}
    ]},
    {"width":217,"height":214,"layer":[
     {"data":{"name":"umap"},"mark":{"type":"circle","size":16,"opacity":0.85},"encoding":{"x":{"field":"u","type":"quantitative","scale":{"domain":[-8.6,5.76],"nice":false,"zero":false},"axis":{"values":[-5,0,5],"format":"d","title":"UMAP_1","titleFontSize":15,"tickSize":4,"labelColor":"#333","labelFontSize":13,"titlePadding":3,"labelPadding":2,"domainColor":"#333","tickColor":"#333"}},"y":{"field":"v","type":"quantitative","scale":{"domain":[-8.72,7.6],"nice":false,"zero":false},"axis":{"values":[-8,-4,0,4],"format":"d","title":"UMAP_2","titleFontSize":15,"tickSize":4,"labelColor":"#333","labelFontSize":13,"titlePadding":4,"labelPadding":2,"domainColor":"#333","tickColor":"#333"}},"color":{"field":"e","type":"quantitative","scale":{"domain":[-0.38,1.2],"range":["#d3d3d3","#0000ff"],"interpolate":"lab"},"legend":{"orient":"none","legendX":232,"legendY":69,"title":null,"gradientLength":82,"gradientThickness":16,"values":[0,0.4,0.8],"format":".1f","labelFontSize":13,"labelColor":"#333","labelOverlap":false,"gradientStrokeWidth":0,"direction":"vertical","labelOffset":6}}}},
     {"data":{"values":[{}]},"mark":{"type":"text","text":"T","fontSize":26,"align":"left","baseline":"alphabetic"},"encoding":{"x":{"datum":-4.66,"type":"quantitative","scale":{"domain":[-8.6,5.76],"nice":false,"zero":false}},"y":{"datum":8.2,"type":"quantitative","scale":{"domain":[-8.72,7.6],"nice":false,"zero":false}}}},
     {"data":{"values":[{}]},"mark":{"type":"text","text":"EM","fontSize":17,"align":"left","baseline":"alphabetic"},"encoding":{"x":{"datum":-3.6,"type":"quantitative","scale":{"domain":[-8.6,5.76],"nice":false,"zero":false}},"y":{"datum":7.8,"type":"quantitative","scale":{"domain":[-8.72,7.6],"nice":false,"zero":false}}}},
     {"data":{"values":[{}]},"mark":{"type":"text","text":"score","fontSize":26,"align":"left","baseline":"alphabetic"},"encoding":{"x":{"datum":-1.44,"type":"quantitative","scale":{"domain":[-8.6,5.76],"nice":false,"zero":false}},"y":{"datum":8.2,"type":"quantitative","scale":{"domain":[-8.72,7.6],"nice":false,"zero":false}}}}
    ]}
   ]}
  ]}
 ]}
]},
{"bounds":"flush","spacing":10,"hconcat":[
 {"width":135,"height":152,"layer":[
  {"data":{"name":"cc"},"transform":[{"filter":"datum.k==1"}],"mark":{"type":"circle","size":11,"opacity":1},"encoding":{"x":{"field":"x","type":"quantitative","scale":{"domain":[-0.96,1.31],"nice":false,"zero":false},"axis":{"values":[-0.5,0,0.5,1],"format":".1f","title":null,"tickSize":3,"labelColor":"#4d4d4d","labelFontSize":13,"labelPadding":3,"labelOverlap":false,"labelFlush":false,"domainColor":"#333","tickColor":"#333"}},"y":{"field":"y","type":"quantitative","scale":{"domain":[-0.82,2.18],"nice":false,"zero":false},"axis":{"values":[0,1,2],"format":"d","title":null,"tickSize":3,"labelColor":"#4d4d4d","labelFontSize":13,"labelPadding":4,"domainColor":"#333","tickColor":"#333"}},"color":{"field":"g","type":"nominal","scale":{"domain":["W","T"],"range":["#F8766D","#00BFC4"]},"legend":null}}},
  {"data":{"values":[{}]},"mark":{"type":"rule","color":"#2a7f9e","strokeWidth":1,"strokeDash":[5,1.5]},"encoding":{"x":{"datum":0,"type":"quantitative","scale":{"domain":[-0.96,1.31],"nice":false,"zero":false}}}},
  {"data":{"values":[{}]},"mark":{"type":"rule","color":"#2a7f9e","strokeWidth":1,"strokeDash":[5,1.5]},"encoding":{"y":{"datum":0.54,"type":"quantitative","scale":{"domain":[-0.82,2.18],"nice":false,"zero":false}}}},
  {"data":{"values":[{}]},"mark":{"type":"rect","fill":"#fff","stroke":"#1a1a1a","strokeWidth":1.3},"encoding":{"x":{"datum":-0.96,"type":"quantitative","scale":{"domain":[-0.96,1.31],"nice":false,"zero":false}},"x2":{"datum":1.31},"y":{"datum":2.18,"type":"quantitative","scale":{"domain":[-0.82,2.18],"nice":false,"zero":false}},"y2":{"datum":2.67}}},
  {"data":{"values":[{}]},"mark":{"type":"text","text":"1","fontSize":13,"color":"#1a1a1a","baseline":"middle"},"encoding":{"x":{"datum":0.175,"type":"quantitative","scale":{"domain":[-0.96,1.31],"nice":false,"zero":false}},"y":{"datum":2.42,"type":"quantitative","scale":{"domain":[-0.82,2.18],"nice":false,"zero":false}}}},
  {"data":{"values":[{}]},"mark":{"type":"text","text":"c","fontSize":30,"align":"left","baseline":"alphabetic"},"encoding":{"x":{"datum":-2.197,"type":"quantitative","scale":{"domain":[-0.96,1.31],"nice":false,"zero":false}},"y":{"datum":3.163,"type":"quantitative","scale":{"domain":[-0.82,2.18],"nice":false,"zero":false}}}},
  {"data":{"values":[{}]},"mark":{"type":"text","text":"Clusters","fontSize":22,"align":"center","baseline":"alphabetic"},"encoding":{"x":{"datum":7.48,"type":"quantitative","scale":{"domain":[-0.96,1.31],"nice":false,"zero":false}},"y":{"datum":3.045,"type":"quantitative","scale":{"domain":[-0.82,2.18],"nice":false,"zero":false}}}},
  {"data":{"values":[{}]},"mark":{"type":"rule","color":"#000","strokeWidth":1.2},"encoding":{"x":{"datum":-0.97,"type":"quantitative","scale":{"domain":[-0.96,1.31],"nice":false,"zero":false}},"x2":{"datum":15.85},"y":{"datum":2.9,"type":"quantitative","scale":{"domain":[-0.82,2.18],"nice":false,"zero":false}}}},
  {"data":{"values":[{}]},"mark":{"type":"rule","color":"#000","strokeWidth":2.5},"encoding":{"x":{"datum":-1.361,"type":"quantitative","scale":{"domain":[-0.96,1.31],"nice":false,"zero":false}},"y":{"datum":-1.455,"type":"quantitative","scale":{"domain":[-0.82,2.18],"nice":false,"zero":false}},"y2":{"datum":0.84}}},
  {"data":{"values":[{}]},"mark":{"type":"rule","color":"#000","strokeWidth":2.5},"encoding":{"x":{"datum":-1.382,"type":"quantitative","scale":{"domain":[-0.96,1.31],"nice":false,"zero":false}},"x2":{"datum":0.56},"y":{"datum":-1.435,"type":"quantitative","scale":{"domain":[-0.82,2.18],"nice":false,"zero":false}}}},
  {"data":{"values":[{}]},"mark":{"type":"point","shape":"M-1,1.5L0,0L1,1.5","filled":false,"color":"#000","strokeWidth":2.5,"size":170,"opacity":1},"encoding":{"x":{"datum":-1.361,"type":"quantitative","scale":{"domain":[-0.96,1.31],"nice":false,"zero":false}},"y":{"datum":0.85,"type":"quantitative","scale":{"domain":[-0.82,2.18],"nice":false,"zero":false}}}},
  {"data":{"values":[{}]},"mark":{"type":"point","shape":"M-1.5,-1L0,0L-1.5,1","filled":false,"color":"#000","strokeWidth":2.5,"size":170,"opacity":1},"encoding":{"x":{"datum":0.571,"type":"quantitative","scale":{"domain":[-0.96,1.31],"nice":false,"zero":false}},"y":{"datum":-1.435,"type":"quantitative","scale":{"domain":[-0.82,2.18],"nice":false,"zero":false}}}},
  {"data":{"values":[{}]},"mark":{"type":"text","text":"T","fontSize":21,"angle":270,"align":"left","baseline":"alphabetic"},"encoding":{"x":{"datum":-1.474,"type":"quantitative","scale":{"domain":[-0.96,1.31],"nice":false,"zero":false}},"y":{"datum":-1.28,"type":"quantitative","scale":{"domain":[-0.82,2.18],"nice":false,"zero":false}}}},
  {"data":{"values":[{}]},"mark":{"type":"text","text":"EM","fontSize":14,"angle":270,"align":"left","baseline":"alphabetic"},"encoding":{"x":{"datum":-1.407,"type":"quantitative","scale":{"domain":[-0.96,1.31],"nice":false,"zero":false}},"y":{"datum":-1.028,"type":"quantitative","scale":{"domain":[-0.82,2.18],"nice":false,"zero":false}}}},
  {"data":{"values":[{}]},"mark":{"type":"text","text":"score","fontSize":21,"angle":270,"align":"left","baseline":"alphabetic"},"encoding":{"x":{"datum":-1.474,"type":"quantitative","scale":{"domain":[-0.96,1.31],"nice":false,"zero":false}},"y":{"datum":-0.5,"type":"quantitative","scale":{"domain":[-0.82,2.18],"nice":false,"zero":false}}}},
  {"data":{"values":[{}]},"mark":{"type":"text","text":"T","fontSize":21,"align":"left","baseline":"alphabetic"},"encoding":{"x":{"datum":-0.852,"type":"quantitative","scale":{"domain":[-0.96,1.31],"nice":false,"zero":false}},"y":{"datum":-1.896,"type":"quantitative","scale":{"domain":[-0.82,2.18],"nice":false,"zero":false}}}},
  {"data":{"values":[{}]},"mark":{"type":"text","text":"CM","fontSize":14,"align":"left","baseline":"alphabetic"},"encoding":{"x":{"datum":-0.637,"type":"quantitative","scale":{"domain":[-0.96,1.31],"nice":false,"zero":false}},"y":{"datum":-1.974,"type":"quantitative","scale":{"domain":[-0.82,2.18],"nice":false,"zero":false}}}},
  {"data":{"values":[{}]},"mark":{"type":"text","text":"score","fontSize":21,"align":"left","baseline":"alphabetic"},"encoding":{"x":{"datum":-0.173,"type":"quantitative","scale":{"domain":[-0.96,1.31],"nice":false,"zero":false}},"y":{"datum":-1.896,"type":"quantitative","scale":{"domain":[-0.82,2.18],"nice":false,"zero":false}}}}
 ]},
 {"width":135,"height":152,"layer":[
  {"data":{"name":"cc"},"transform":[{"filter":"datum.k==2"}],"mark":{"type":"circle","size":11,"opacity":1},"encoding":{"x":{"field":"x","type":"quantitative","scale":{"domain":[-0.96,1.31],"nice":false,"zero":false},"axis":{"values":[-0.5,0,0.5,1],"format":".1f","title":null,"tickSize":3,"labelColor":"#4d4d4d","labelFontSize":13,"labelPadding":3,"labelOverlap":false,"labelFlush":false,"domainColor":"#333","tickColor":"#333"}},"y":{"field":"y","type":"quantitative","scale":{"domain":[-0.82,2.18],"nice":false,"zero":false},"axis":{"labels":false,"ticks":false,"title":null,"domainColor":"#333"}},"color":{"field":"g","type":"nominal","scale":{"domain":["W","T"],"range":["#F8766D","#00BFC4"]},"legend":null}}},
  {"data":{"values":[{}]},"mark":{"type":"rule","color":"#2a7f9e","strokeWidth":1,"strokeDash":[5,1.5]},"encoding":{"x":{"datum":0,"type":"quantitative","scale":{"domain":[-0.96,1.31],"nice":false,"zero":false}}}},
  {"data":{"values":[{}]},"mark":{"type":"rule","color":"#2a7f9e","strokeWidth":1,"strokeDash":[5,1.5]},"encoding":{"y":{"datum":0.576,"type":"quantitative","scale":{"domain":[-0.82,2.18],"nice":false,"zero":false}}}},
  {"data":{"values":[{}]},"mark":{"type":"rect","fill":"#fff","stroke":"#1a1a1a","strokeWidth":1.3},"encoding":{"x":{"datum":-0.96,"type":"quantitative","scale":{"domain":[-0.96,1.31],"nice":false,"zero":false}},"x2":{"datum":1.31},"y":{"datum":2.18,"type":"quantitative","scale":{"domain":[-0.82,2.18],"nice":false,"zero":false}},"y2":{"datum":2.67}}},
  {"data":{"values":[{}]},"mark":{"type":"text","text":"2","fontSize":13,"color":"#1a1a1a","baseline":"middle"},"encoding":{"x":{"datum":0.175,"type":"quantitative","scale":{"domain":[-0.96,1.31],"nice":false,"zero":false}},"y":{"datum":2.42,"type":"quantitative","scale":{"domain":[-0.82,2.18],"nice":false,"zero":false}}}}
 ]},
 {"width":135,"height":152,"layer":[
  {"data":{"name":"cc"},"transform":[{"filter":"datum.k==3"}],"mark":{"type":"circle","size":11,"opacity":1},"encoding":{"x":{"field":"x","type":"quantitative","scale":{"domain":[-0.96,1.31],"nice":false,"zero":false},"axis":{"values":[-0.5,0,0.5,1],"format":".1f","title":null,"tickSize":3,"labelColor":"#4d4d4d","labelFontSize":13,"labelPadding":3,"labelOverlap":false,"labelFlush":false,"domainColor":"#333","tickColor":"#333"}},"y":{"field":"y","type":"quantitative","scale":{"domain":[-0.82,2.18],"nice":false,"zero":false},"axis":{"labels":false,"ticks":false,"title":null,"domainColor":"#333"}},"color":{"field":"g","type":"nominal","scale":{"domain":["W","T"],"range":["#F8766D","#00BFC4"]},"legend":null}}},
  {"data":{"values":[{}]},"mark":{"type":"rule","color":"#2a7f9e","strokeWidth":1,"strokeDash":[5,1.5]},"encoding":{"x":{"datum":0,"type":"quantitative","scale":{"domain":[-0.96,1.31],"nice":false,"zero":false}}}},
  {"data":{"values":[{}]},"mark":{"type":"rule","color":"#2a7f9e","strokeWidth":1,"strokeDash":[5,1.5]},"encoding":{"y":{"datum":0.59,"type":"quantitative","scale":{"domain":[-0.82,2.18],"nice":false,"zero":false}}}},
  {"data":{"values":[{}]},"mark":{"type":"rect","fill":"#fff","stroke":"#1a1a1a","strokeWidth":1.3},"encoding":{"x":{"datum":-0.96,"type":"quantitative","scale":{"domain":[-0.96,1.31],"nice":false,"zero":false}},"x2":{"datum":1.31},"y":{"datum":2.18,"type":"quantitative","scale":{"domain":[-0.82,2.18],"nice":false,"zero":false}},"y2":{"datum":2.67}}},
  {"data":{"values":[{}]},"mark":{"type":"text","text":"3","fontSize":13,"color":"#1a1a1a","baseline":"middle"},"encoding":{"x":{"datum":0.175,"type":"quantitative","scale":{"domain":[-0.96,1.31],"nice":false,"zero":false}},"y":{"datum":2.42,"type":"quantitative","scale":{"domain":[-0.82,2.18],"nice":false,"zero":false}}}}
 ]},
 {"width":135,"height":152,"layer":[
  {"data":{"name":"cc"},"transform":[{"filter":"datum.k==4"}],"mark":{"type":"circle","size":11,"opacity":1},"encoding":{"x":{"field":"x","type":"quantitative","scale":{"domain":[-0.96,1.31],"nice":false,"zero":false},"axis":{"values":[-0.5,0,0.5,1],"format":".1f","title":null,"tickSize":3,"labelColor":"#4d4d4d","labelFontSize":13,"labelPadding":3,"labelOverlap":false,"labelFlush":false,"domainColor":"#333","tickColor":"#333"}},"y":{"field":"y","type":"quantitative","scale":{"domain":[-0.82,2.18],"nice":false,"zero":false},"axis":{"labels":false,"ticks":false,"title":null,"domainColor":"#333"}},"color":{"field":"g","type":"nominal","scale":{"domain":["W","T"],"range":["#F8766D","#00BFC4"]},"legend":null}}},
  {"data":{"values":[{}]},"mark":{"type":"rule","color":"#2a7f9e","strokeWidth":1,"strokeDash":[5,1.5]},"encoding":{"x":{"datum":0,"type":"quantitative","scale":{"domain":[-0.96,1.31],"nice":false,"zero":false}}}},
  {"data":{"values":[{}]},"mark":{"type":"rule","color":"#2a7f9e","strokeWidth":1,"strokeDash":[5,1.5]},"encoding":{"y":{"datum":0.59,"type":"quantitative","scale":{"domain":[-0.82,2.18],"nice":false,"zero":false}}}},
  {"data":{"values":[{}]},"mark":{"type":"rect","fill":"#fff","stroke":"#1a1a1a","strokeWidth":1.3},"encoding":{"x":{"datum":-0.96,"type":"quantitative","scale":{"domain":[-0.96,1.31],"nice":false,"zero":false}},"x2":{"datum":1.31},"y":{"datum":2.18,"type":"quantitative","scale":{"domain":[-0.82,2.18],"nice":false,"zero":false}},"y2":{"datum":2.67}}},
  {"data":{"values":[{}]},"mark":{"type":"text","text":"4","fontSize":13,"color":"#1a1a1a","baseline":"middle"},"encoding":{"x":{"datum":0.175,"type":"quantitative","scale":{"domain":[-0.96,1.31],"nice":false,"zero":false}},"y":{"datum":2.42,"type":"quantitative","scale":{"domain":[-0.82,2.18],"nice":false,"zero":false}}}}
 ]},
 {"width":135,"height":152,"layer":[
  {"data":{"name":"cc"},"transform":[{"filter":"datum.k==5"}],"mark":{"type":"circle","size":11,"opacity":1},"encoding":{"x":{"field":"x","type":"quantitative","scale":{"domain":[-0.96,1.31],"nice":false,"zero":false},"axis":{"values":[-0.5,0,0.5,1],"format":".1f","title":null,"tickSize":3,"labelColor":"#4d4d4d","labelFontSize":13,"labelPadding":3,"labelOverlap":false,"labelFlush":false,"domainColor":"#333","tickColor":"#333"}},"y":{"field":"y","type":"quantitative","scale":{"domain":[-0.82,2.18],"nice":false,"zero":false},"axis":{"labels":false,"ticks":false,"title":null,"domainColor":"#333"}},"color":{"field":"g","type":"nominal","scale":{"domain":["W","T"],"range":["#F8766D","#00BFC4"]},"legend":null}}},
  {"data":{"values":[{}]},"mark":{"type":"rule","color":"#2a7f9e","strokeWidth":1,"strokeDash":[5,1.5]},"encoding":{"x":{"datum":0,"type":"quantitative","scale":{"domain":[-0.96,1.31],"nice":false,"zero":false}}}},
  {"data":{"values":[{}]},"mark":{"type":"rule","color":"#2a7f9e","strokeWidth":1,"strokeDash":[5,1.5]},"encoding":{"y":{"datum":0.576,"type":"quantitative","scale":{"domain":[-0.82,2.18],"nice":false,"zero":false}}}},
  {"data":{"values":[{}]},"mark":{"type":"rect","fill":"#fff","stroke":"#1a1a1a","strokeWidth":1.3},"encoding":{"x":{"datum":-0.96,"type":"quantitative","scale":{"domain":[-0.96,1.31],"nice":false,"zero":false}},"x2":{"datum":1.31},"y":{"datum":2.18,"type":"quantitative","scale":{"domain":[-0.82,2.18],"nice":false,"zero":false}},"y2":{"datum":2.67}}},
  {"data":{"values":[{}]},"mark":{"type":"text","text":"5","fontSize":13,"color":"#1a1a1a","baseline":"middle"},"encoding":{"x":{"datum":0.175,"type":"quantitative","scale":{"domain":[-0.96,1.31],"nice":false,"zero":false}},"y":{"datum":2.42,"type":"quantitative","scale":{"domain":[-0.82,2.18],"nice":false,"zero":false}}}}
 ]},
 {"width":135,"height":152,"layer":[
  {"data":{"name":"cc"},"transform":[{"filter":"datum.k==6"}],"mark":{"type":"circle","size":11,"opacity":1},"encoding":{"x":{"field":"x","type":"quantitative","scale":{"domain":[-0.96,1.31],"nice":false,"zero":false},"axis":{"values":[-0.5,0,0.5,1],"format":".1f","title":null,"tickSize":3,"labelColor":"#4d4d4d","labelFontSize":13,"labelPadding":3,"labelOverlap":false,"labelFlush":false,"domainColor":"#333","tickColor":"#333"}},"y":{"field":"y","type":"quantitative","scale":{"domain":[-0.82,2.18],"nice":false,"zero":false},"axis":{"labels":false,"ticks":false,"title":null,"domainColor":"#333"}},"color":{"field":"g","type":"nominal","scale":{"domain":["W","T"],"range":["#F8766D","#00BFC4"]},"legend":null}}},
  {"data":{"values":[{}]},"mark":{"type":"rule","color":"#2a7f9e","strokeWidth":1,"strokeDash":[5,1.5]},"encoding":{"x":{"datum":0,"type":"quantitative","scale":{"domain":[-0.96,1.31],"nice":false,"zero":false}}}},
  {"data":{"values":[{}]},"mark":{"type":"rule","color":"#2a7f9e","strokeWidth":1,"strokeDash":[5,1.5]},"encoding":{"y":{"datum":0.57,"type":"quantitative","scale":{"domain":[-0.82,2.18],"nice":false,"zero":false}}}},
  {"data":{"values":[{}]},"mark":{"type":"rect","fill":"#fff","stroke":"#1a1a1a","strokeWidth":1.3},"encoding":{"x":{"datum":-0.96,"type":"quantitative","scale":{"domain":[-0.96,1.31],"nice":false,"zero":false}},"x2":{"datum":1.31},"y":{"datum":2.18,"type":"quantitative","scale":{"domain":[-0.82,2.18],"nice":false,"zero":false}},"y2":{"datum":2.67}}},
  {"data":{"values":[{}]},"mark":{"type":"text","text":"6","fontSize":13,"color":"#1a1a1a","baseline":"middle"},"encoding":{"x":{"datum":0.175,"type":"quantitative","scale":{"domain":[-0.96,1.31],"nice":false,"zero":false}},"y":{"datum":2.42,"type":"quantitative","scale":{"domain":[-0.82,2.18],"nice":false,"zero":false}}}}
 ]},
 {"width":135,"height":152,"layer":[
  {"data":{"name":"cc"},"transform":[{"filter":"datum.k==7"}],"mark":{"type":"circle","size":11,"opacity":1},"encoding":{"x":{"field":"x","type":"quantitative","scale":{"domain":[-0.96,1.31],"nice":false,"zero":false},"axis":{"values":[-0.5,0,0.5,1],"format":".1f","title":null,"tickSize":3,"labelColor":"#4d4d4d","labelFontSize":13,"labelPadding":3,"labelOverlap":false,"labelFlush":false,"domainColor":"#333","tickColor":"#333"}},"y":{"field":"y","type":"quantitative","scale":{"domain":[-0.82,2.18],"nice":false,"zero":false},"axis":{"labels":false,"ticks":false,"title":null,"domainColor":"#333"}},"color":{"field":"g","type":"nominal","scale":{"domain":["W","T"],"range":["#F8766D","#00BFC4"]},"legend":null}}},
  {"data":{"values":[{}]},"mark":{"type":"rule","color":"#2a7f9e","strokeWidth":1,"strokeDash":[5,1.5]},"encoding":{"x":{"datum":0,"type":"quantitative","scale":{"domain":[-0.96,1.31],"nice":false,"zero":false}}}},
  {"data":{"values":[{}]},"mark":{"type":"rule","color":"#2a7f9e","strokeWidth":1,"strokeDash":[5,1.5]},"encoding":{"y":{"datum":0.57,"type":"quantitative","scale":{"domain":[-0.82,2.18],"nice":false,"zero":false}}}},
  {"data":{"values":[{}]},"mark":{"type":"rect","fill":"#fff","stroke":"#1a1a1a","strokeWidth":1.3},"encoding":{"x":{"datum":-0.96,"type":"quantitative","scale":{"domain":[-0.96,1.31],"nice":false,"zero":false}},"x2":{"datum":1.31},"y":{"datum":2.18,"type":"quantitative","scale":{"domain":[-0.82,2.18],"nice":false,"zero":false}},"y2":{"datum":2.67}}},
  {"data":{"values":[{}]},"mark":{"type":"text","text":"7","fontSize":13,"color":"#1a1a1a","baseline":"middle"},"encoding":{"x":{"datum":0.175,"type":"quantitative","scale":{"domain":[-0.96,1.31],"nice":false,"zero":false}},"y":{"datum":2.42,"type":"quantitative","scale":{"domain":[-0.82,2.18],"nice":false,"zero":false}}}},
  {"data":{"values":[{}]},"mark":{"type":"circle","size":130,"color":"#F8766D","opacity":1},"encoding":{"x":{"datum":1.568,"type":"quantitative","scale":{"domain":[-0.96,1.31],"nice":false,"zero":false}},"y":{"datum":1.465,"type":"quantitative","scale":{"domain":[-0.82,2.18],"nice":false,"zero":false}}}},
  {"data":{"values":[{}]},"mark":{"type":"circle","size":130,"color":"#00BFC4","opacity":1},"encoding":{"x":{"datum":1.568,"type":"quantitative","scale":{"domain":[-0.96,1.31],"nice":false,"zero":false}},"y":{"datum":0.919,"type":"quantitative","scale":{"domain":[-0.82,2.18],"nice":false,"zero":false}}}},
  {"data":{"values":[{}]},"mark":{"type":"text","text":"WT","fontSize":21,"align":"left","baseline":"alphabetic"},"encoding":{"x":{"datum":1.882,"type":"quantitative","scale":{"domain":[-0.96,1.31],"nice":false,"zero":false}},"y":{"datum":1.313,"type":"quantitative","scale":{"domain":[-0.82,2.18],"nice":false,"zero":false}}}},
  {"data":{"values":[{}]},"mark":{"type":"text","text":"Tle3","fontSize":21,"fontStyle":"italic","align":"left","baseline":"alphabetic"},"encoding":{"x":{"datum":1.882,"type":"quantitative","scale":{"domain":[-0.96,1.31],"nice":false,"zero":false}},"y":{"datum":0.756,"type":"quantitative","scale":{"domain":[-0.82,2.18],"nice":false,"zero":false}}}},
  {"data":{"values":[{}]},"mark":{"type":"text","text":"–/–","fontSize":13,"fontStyle":"italic","align":"left","baseline":"alphabetic"},"encoding":{"x":{"datum":2.571,"type":"quantitative","scale":{"domain":[-0.96,1.31],"nice":false,"zero":false}},"y":{"datum":0.88,"type":"quantitative","scale":{"domain":[-0.82,2.18],"nice":false,"zero":false}}}}
 ]}
]}
]
}
